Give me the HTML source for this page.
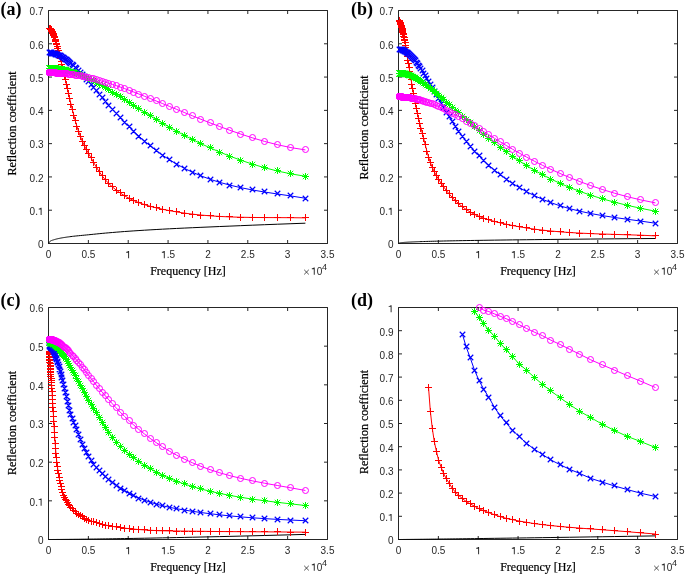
<!DOCTYPE html>
<html><head><meta charset="utf-8"><style>html,body{margin:0;padding:0;background:#fff;}svg{display:block;will-change:transform;}</style></head><body>
<svg width="685" height="575" viewBox="0 0 685 575">
<rect width="685" height="575" fill="#fff"/>
<path d="M48.5 243.5H327.5V10.5H48.5Z" fill="none" stroke="#262626" stroke-width="1"/>
<path d="M48.5 243.5v-3.5M48.5 10.5v3.5M88.36 243.5v-3.5M88.36 10.5v3.5M128.21 243.5v-3.5M128.21 10.5v3.5M168.07 243.5v-3.5M168.07 10.5v3.5M207.93 243.5v-3.5M207.93 10.5v3.5M247.79 243.5v-3.5M247.79 10.5v3.5M287.64 243.5v-3.5M287.64 10.5v3.5M327.5 243.5v-3.5M327.5 10.5v3.5M48.5 243.5h3.5M327.5 243.5h-3.5M48.5 210.21h3.5M327.5 210.21h-3.5M48.5 176.93h3.5M327.5 176.93h-3.5M48.5 143.64h3.5M327.5 143.64h-3.5M48.5 110.36h3.5M327.5 110.36h-3.5M48.5 77.07h3.5M327.5 77.07h-3.5M48.5 43.79h3.5M327.5 43.79h-3.5M48.5 10.5h3.5M327.5 10.5h-3.5" fill="none" stroke="#262626" stroke-width="1"/>
<path d="M48.5 243.5 49.33 242.14 49.37 242.06 49.43 241.99 49.48 241.91 49.54 241.83 49.6 241.75 49.67 241.67 49.74 241.59 49.81 241.51 49.89 241.43 49.97 241.36 50.06 241.29 50.16 241.23 50.25 241.17 50.36 241.1 50.47 241.04 50.59 240.97 50.71 240.9 50.84 240.83 50.98 240.76 51.13 240.69 51.29 240.62 51.46 240.55 51.63 240.48 51.82 240.41 52.02 240.34 52.23 240.27 52.45 240.2 52.69 240.13 52.94 240.05 53.2 239.98 53.48 239.89 53.78 239.8 54.09 239.7 54.43 239.6 54.78 239.49 55.16 239.39 55.55 239.27 55.97 239.16 56.42 239.04 56.89 238.92 57.39 238.8 57.93 238.68 58.49 238.55 59.08 238.42 59.72 238.3 60.39 238.17 61.1 238.03 61.85 237.9 62.64 237.76 63.49 237.62 64.38 237.48 65.33 237.33 66.34 237.18 67.4 237.03 68.53 236.88 69.73 236.72 70.99 236.56 72.34 236.39 73.76 236.23 75.27 236.06 76.86 235.9 78.56 235.73 80.35 235.55 82.25 235.37 84.27 235.18 86.4 234.98 88.67 234.75 91.07 234.51 93.61 234.25 96.3 233.98 99.15 233.69 102.18 233.4 105.38 233.1 108.78 232.8 112.38 232.5 116.19 232.18 120.23 231.86 124.51 231.53 129.05 231.21 133.86 230.88 138.96 230.55 144.36 230.21 150.08 229.87 156.14 229.52 162.57 229.17 169.38 228.81 176.6 228.45 184.24 228.09 192.35 227.71 200.93 227.33 210.03 226.94 219.68 226.53 229.9 226.11 240.73 225.66 252.2 225.19 264.36 224.71 277.25 224.22 290.91 223.71 305.38 223.2" fill="none" stroke="#000000" stroke-width="1"/>
<path d="M49.33 28.2 49.37 28.23 49.43 28.25 49.48 28.28 49.54 28.32 49.6 28.36 49.67 28.4 49.74 28.45 49.81 28.5 49.89 28.57 49.97 28.63 50.06 28.71 50.16 28.79 50.25 28.89 50.36 28.99 50.47 29.11 50.59 29.24 50.71 29.39 50.84 29.56 50.98 29.74 51.13 29.95 51.29 30.17 51.46 30.43 51.63 30.71 51.82 31.03 52.02 31.39 52.23 31.78 52.45 32.22 52.69 32.7 52.94 33.25 53.2 33.85 53.48 34.52 53.78 35.26 54.09 36.08 54.43 36.99 54.78 37.99 55.16 39.1 55.55 40.33 55.97 41.68 56.42 43.17 56.89 44.81 57.39 46.6 57.93 48.56 58.49 50.71 59.08 53.05 59.72 55.59 60.39 58.34 61.1 61.3 61.85 64.5 62.64 67.92 63.49 71.58 64.38 75.5 65.33 79.66 66.34 84.08 67.4 88.75 68.53 93.66 69.73 98.79 70.99 104.11 72.34 109.58 73.76 115.15 75.27 120.73 76.86 126.22 78.56 131.48 80.35 136.42 82.25 141.06 84.27 145.44 86.4 149.62 88.67 153.73 91.07 157.95 93.61 162.41 96.3 167.03 99.15 171.59 102.18 175.88 105.38 179.86 108.78 183.53 112.38 186.9 116.19 190.04 120.23 192.98 124.51 195.74 129.05 198.29 133.86 200.61 138.96 202.71 144.36 204.59 150.08 206.28 156.14 207.82 162.57 209.27 169.38 210.64 176.6 211.92 184.24 213.09 192.35 214.13 200.93 215.05 210.03 215.82 219.68 216.45 229.9 216.92 240.73 217.25 252.2 217.46 264.36 217.57 277.25 217.62 290.91 217.69 305.38 217.87" fill="none" stroke="#ff0000" stroke-width="1"/>
<path d="M46 28.5h7M49.5 25v7M46 28.5h7M49.5 25v7M46 28.5h7M49.5 25v7M46 28.5h7M49.5 25v7M46 28.5h7M49.5 25v7M46 28.5h7M49.5 25v7M46 28.5h7M49.5 25v7M46 28.5h7M49.5 25v7M46 28.5h7M49.5 25v7M46 28.5h7M49.5 25v7M46 28.5h7M49.5 25v7M47 28.5h7M50.5 25v7M47 28.5h7M50.5 25v7M47 28.5h7M50.5 25v7M47 28.5h7M50.5 25v7M47 29.5h7M50.5 26v7M47 29.5h7M50.5 26v7M47 29.5h7M50.5 26v7M47 29.5h7M50.5 26v7M47 29.5h7M50.5 26v7M48 29.5h7M51.5 26v7M48 30.5h7M51.5 27v7M48 30.5h7M51.5 27v7M48 30.5h7M51.5 27v7M48 31.5h7M51.5 28v7M49 31.5h7M52.5 28v7M49 31.5h7M52.5 28v7M49 32.5h7M52.5 29v7M49 32.5h7M52.5 29v7M49 33.5h7M52.5 30v7M50 33.5h7M53.5 30v7M50 34.5h7M53.5 31v7M50 35.5h7M53.5 32v7M51 36.5h7M54.5 33v7M51 36.5h7M54.5 33v7M51 37.5h7M54.5 34v7M52 39.5h7M55.5 36v7M52 40.5h7M55.5 37v7M52 41.5h7M55.5 38v7M53 43.5h7M56.5 40v7M53 44.5h7M56.5 41v7M54 46.5h7M57.5 43v7M54 48.5h7M57.5 45v7M55 50.5h7M58.5 47v7M56 53.5h7M59.5 50v7M56 55.5h7M59.5 52v7M57 58.5h7M60.5 55v7M58 61.5h7M61.5 58v7M58 64.5h7M61.5 61v7M59 67.5h7M62.5 64v7M60 71.5h7M63.5 68v7M61 75.5h7M64.5 72v7M62 79.5h7M65.5 76v7M63 84.5h7M66.5 81v7M64 88.5h7M67.5 85v7M65 93.5h7M68.5 90v7M66 98.5h7M69.5 95v7M67 104.5h7M70.5 101v7M69 109.5h7M72.5 106v7M70 115.5h7M73.5 112v7M72 120.5h7M75.5 117v7M73 126.5h7M76.5 123v7M75 131.5h7M78.5 128v7M77 136.5h7M80.5 133v7M79 141.5h7M82.5 138v7M81 145.5h7M84.5 142v7M83 149.5h7M86.5 146v7M85 153.5h7M88.5 150v7M88 157.5h7M91.5 154v7M90 162.5h7M93.5 159v7M93 167.5h7M96.5 164v7M96 171.5h7M99.5 168v7M99 175.5h7M102.5 172v7M102 179.5h7M105.5 176v7M105 183.5h7M108.5 180v7M109 186.5h7M112.5 183v7M113 190.5h7M116.5 187v7M117 192.5h7M120.5 189v7M121 195.5h7M124.5 192v7M126 198.5h7M129.5 195v7M130 200.5h7M133.5 197v7M135 202.5h7M138.5 199v7M141 204.5h7M144.5 201v7M147 206.5h7M150.5 203v7M153 207.5h7M156.5 204v7M159 209.5h7M162.5 206v7M166 210.5h7M169.5 207v7M173 211.5h7M176.5 208v7M181 213.5h7M184.5 210v7M189 214.5h7M192.5 211v7M197 215.5h7M200.5 212v7M207 215.5h7M210.5 212v7M216 216.5h7M219.5 213v7M226 216.5h7M229.5 213v7M237 217.5h7M240.5 214v7M249 217.5h7M252.5 214v7M261 217.5h7M264.5 214v7M274 217.5h7M277.5 214v7M287 217.5h7M290.5 214v7M302 217.5h7M305.5 214v7" fill="none" stroke="#ff0000" stroke-width="1"/>
<path d="M49.33 52.79 49.37 52.79 49.43 52.79 49.48 52.79 49.54 52.8 49.6 52.8 49.67 52.8 49.74 52.8 49.81 52.81 49.89 52.81 49.97 52.82 50.06 52.82 50.16 52.83 50.25 52.84 50.36 52.85 50.47 52.86 50.59 52.87 50.71 52.88 50.84 52.89 50.98 52.91 51.13 52.93 51.29 52.95 51.46 52.97 51.63 52.99 51.82 53.02 52.02 53.05 52.23 53.09 52.45 53.13 52.69 53.17 52.94 53.22 53.2 53.28 53.48 53.34 53.78 53.41 54.09 53.49 54.43 53.58 54.78 53.68 55.16 53.79 55.55 53.92 55.97 54.06 56.42 54.22 56.89 54.4 57.39 54.59 57.93 54.81 58.49 55.06 59.08 55.33 59.72 55.64 60.39 55.98 61.1 56.36 61.85 56.79 62.64 57.26 63.49 57.79 64.38 58.37 65.33 59.02 66.34 59.74 67.4 60.53 68.53 61.42 69.73 62.39 70.99 63.47 72.34 64.66 73.76 65.96 75.27 67.4 76.86 68.98 78.56 70.7 80.35 72.59 82.25 74.64 84.27 76.87 86.4 79.28 88.67 81.89 91.07 84.68 93.61 87.67 96.3 90.84 99.15 94.18 102.18 97.69 105.38 101.36 108.78 105.2 112.38 109.21 116.19 113.37 120.23 117.69 124.51 122.14 129.05 126.73 133.86 131.42 138.96 136.19 144.36 141.01 150.08 145.82 156.14 150.57 162.57 155.21 169.38 159.73 176.6 164.08 184.24 168.24 192.35 172.17 200.93 175.84 210.03 179.24 219.68 182.34 229.9 185.14 240.73 187.66 252.2 189.92 264.36 191.99 277.25 193.96 290.91 195.97 305.38 198.24" fill="none" stroke="#0000ff" stroke-width="1"/>
<path d="M46.75 49.75l5.5 5.5M46.75 55.25l5.5 -5.5M46.75 49.75l5.5 5.5M46.75 55.25l5.5 -5.5M46.75 49.75l5.5 5.5M46.75 55.25l5.5 -5.5M46.75 49.75l5.5 5.5M46.75 55.25l5.5 -5.5M46.75 49.75l5.5 5.5M46.75 55.25l5.5 -5.5M46.75 49.75l5.5 5.5M46.75 55.25l5.5 -5.5M46.75 49.75l5.5 5.5M46.75 55.25l5.5 -5.5M46.75 49.75l5.5 5.5M46.75 55.25l5.5 -5.5M46.75 49.75l5.5 5.5M46.75 55.25l5.5 -5.5M46.75 49.75l5.5 5.5M46.75 55.25l5.5 -5.5M46.75 49.75l5.5 5.5M46.75 55.25l5.5 -5.5M47.75 49.75l5.5 5.5M47.75 55.25l5.5 -5.5M47.75 49.75l5.5 5.5M47.75 55.25l5.5 -5.5M47.75 49.75l5.5 5.5M47.75 55.25l5.5 -5.5M47.75 49.75l5.5 5.5M47.75 55.25l5.5 -5.5M47.75 49.75l5.5 5.5M47.75 55.25l5.5 -5.5M47.75 49.75l5.5 5.5M47.75 55.25l5.5 -5.5M47.75 49.75l5.5 5.5M47.75 55.25l5.5 -5.5M47.75 49.75l5.5 5.5M47.75 55.25l5.5 -5.5M47.75 49.75l5.5 5.5M47.75 55.25l5.5 -5.5M48.75 49.75l5.5 5.5M48.75 55.25l5.5 -5.5M48.75 49.75l5.5 5.5M48.75 55.25l5.5 -5.5M48.75 49.75l5.5 5.5M48.75 55.25l5.5 -5.5M48.75 49.75l5.5 5.5M48.75 55.25l5.5 -5.5M48.75 50.75l5.5 5.5M48.75 56.25l5.5 -5.5M49.75 50.75l5.5 5.5M49.75 56.25l5.5 -5.5M49.75 50.75l5.5 5.5M49.75 56.25l5.5 -5.5M49.75 50.75l5.5 5.5M49.75 56.25l5.5 -5.5M49.75 50.75l5.5 5.5M49.75 56.25l5.5 -5.5M49.75 50.75l5.5 5.5M49.75 56.25l5.5 -5.5M50.75 50.75l5.5 5.5M50.75 56.25l5.5 -5.5M50.75 50.75l5.5 5.5M50.75 56.25l5.5 -5.5M50.75 50.75l5.5 5.5M50.75 56.25l5.5 -5.5M51.75 50.75l5.5 5.5M51.75 56.25l5.5 -5.5M51.75 50.75l5.5 5.5M51.75 56.25l5.5 -5.5M51.75 50.75l5.5 5.5M51.75 56.25l5.5 -5.5M52.75 50.75l5.5 5.5M52.75 56.25l5.5 -5.5M52.75 50.75l5.5 5.5M52.75 56.25l5.5 -5.5M52.75 51.75l5.5 5.5M52.75 57.25l5.5 -5.5M53.75 51.75l5.5 5.5M53.75 57.25l5.5 -5.5M53.75 51.75l5.5 5.5M53.75 57.25l5.5 -5.5M54.75 51.75l5.5 5.5M54.75 57.25l5.5 -5.5M54.75 51.75l5.5 5.5M54.75 57.25l5.5 -5.5M55.75 52.75l5.5 5.5M55.75 58.25l5.5 -5.5M56.75 52.75l5.5 5.5M56.75 58.25l5.5 -5.5M56.75 52.75l5.5 5.5M56.75 58.25l5.5 -5.5M57.75 52.75l5.5 5.5M57.75 58.25l5.5 -5.5M58.75 53.75l5.5 5.5M58.75 59.25l5.5 -5.5M58.75 53.75l5.5 5.5M58.75 59.25l5.5 -5.5M59.75 54.75l5.5 5.5M59.75 60.25l5.5 -5.5M60.75 54.75l5.5 5.5M60.75 60.25l5.5 -5.5M61.75 55.75l5.5 5.5M61.75 61.25l5.5 -5.5M62.75 56.75l5.5 5.5M62.75 62.25l5.5 -5.5M63.75 56.75l5.5 5.5M63.75 62.25l5.5 -5.5M64.75 57.75l5.5 5.5M64.75 63.25l5.5 -5.5M65.75 58.75l5.5 5.5M65.75 64.25l5.5 -5.5M66.75 59.75l5.5 5.5M66.75 65.25l5.5 -5.5M67.75 60.75l5.5 5.5M67.75 66.25l5.5 -5.5M69.75 61.75l5.5 5.5M69.75 67.25l5.5 -5.5M70.75 62.75l5.5 5.5M70.75 68.25l5.5 -5.5M72.75 64.75l5.5 5.5M72.75 70.25l5.5 -5.5M73.75 65.75l5.5 5.5M73.75 71.25l5.5 -5.5M75.75 67.75l5.5 5.5M75.75 73.25l5.5 -5.5M77.75 69.75l5.5 5.5M77.75 75.25l5.5 -5.5M79.75 71.75l5.5 5.5M79.75 77.25l5.5 -5.5M81.75 73.75l5.5 5.5M81.75 79.25l5.5 -5.5M83.75 76.75l5.5 5.5M83.75 82.25l5.5 -5.5M85.75 78.75l5.5 5.5M85.75 84.25l5.5 -5.5M88.75 81.75l5.5 5.5M88.75 87.25l5.5 -5.5M90.75 84.75l5.5 5.5M90.75 90.25l5.5 -5.5M93.75 87.75l5.5 5.5M93.75 93.25l5.5 -5.5M96.75 91.75l5.5 5.5M96.75 97.25l5.5 -5.5M99.75 94.75l5.5 5.5M99.75 100.25l5.5 -5.5M102.75 98.75l5.5 5.5M102.75 104.25l5.5 -5.5M105.75 102.75l5.5 5.5M105.75 108.25l5.5 -5.5M109.75 106.75l5.5 5.5M109.75 112.25l5.5 -5.5M113.75 110.75l5.5 5.5M113.75 116.25l5.5 -5.5M117.75 114.75l5.5 5.5M117.75 120.25l5.5 -5.5M121.75 119.75l5.5 5.5M121.75 125.25l5.5 -5.5M126.75 123.75l5.5 5.5M126.75 129.25l5.5 -5.5M130.75 128.75l5.5 5.5M130.75 134.25l5.5 -5.5M135.75 133.75l5.5 5.5M135.75 139.25l5.5 -5.5M141.75 138.75l5.5 5.5M141.75 144.25l5.5 -5.5M147.75 142.75l5.5 5.5M147.75 148.25l5.5 -5.5M153.75 147.75l5.5 5.5M153.75 153.25l5.5 -5.5M159.75 152.75l5.5 5.5M159.75 158.25l5.5 -5.5M166.75 156.75l5.5 5.5M166.75 162.25l5.5 -5.5M173.75 161.75l5.5 5.5M173.75 167.25l5.5 -5.5M181.75 165.75l5.5 5.5M181.75 171.25l5.5 -5.5M189.75 169.75l5.5 5.5M189.75 175.25l5.5 -5.5M197.75 172.75l5.5 5.5M197.75 178.25l5.5 -5.5M207.75 176.75l5.5 5.5M207.75 182.25l5.5 -5.5M216.75 179.75l5.5 5.5M216.75 185.25l5.5 -5.5M226.75 182.75l5.5 5.5M226.75 188.25l5.5 -5.5M237.75 184.75l5.5 5.5M237.75 190.25l5.5 -5.5M249.75 186.75l5.5 5.5M249.75 192.25l5.5 -5.5M261.75 188.75l5.5 5.5M261.75 194.25l5.5 -5.5M274.75 190.75l5.5 5.5M274.75 196.25l5.5 -5.5M287.75 192.75l5.5 5.5M287.75 198.25l5.5 -5.5M302.75 195.75l5.5 5.5M302.75 201.25l5.5 -5.5" fill="none" stroke="#0000ff" stroke-width="1.15"/>
<path d="M49.33 68.32 49.37 68.32 49.43 68.32 49.48 68.32 49.54 68.32 49.6 68.32 49.67 68.32 49.74 68.32 49.81 68.33 49.89 68.33 49.97 68.33 50.06 68.33 50.16 68.33 50.25 68.34 50.36 68.34 50.47 68.34 50.59 68.35 50.71 68.35 50.84 68.36 50.98 68.36 51.13 68.37 51.29 68.37 51.46 68.38 51.63 68.39 51.82 68.4 52.02 68.41 52.23 68.42 52.45 68.43 52.69 68.44 52.94 68.46 53.2 68.47 53.48 68.49 53.78 68.51 54.09 68.54 54.43 68.57 54.78 68.59 55.16 68.63 55.55 68.66 55.97 68.71 56.42 68.75 56.89 68.8 57.39 68.86 57.93 68.93 58.49 69 59.08 69.08 59.72 69.17 60.39 69.27 61.1 69.39 61.85 69.52 62.64 69.66 63.49 69.82 64.38 70 65.33 70.2 66.34 70.42 67.4 70.67 68.53 70.95 69.73 71.27 70.99 71.62 72.34 72.01 73.76 72.45 75.27 72.95 76.86 73.5 78.56 74.11 80.35 74.8 82.25 75.57 84.27 76.43 86.4 77.4 88.67 78.47 91.07 79.67 93.61 80.99 96.3 82.46 99.15 84.07 102.18 85.83 105.38 87.75 108.78 89.82 112.38 92.05 116.19 94.43 120.23 96.96 124.51 99.66 129.05 102.53 133.86 105.57 138.96 108.78 144.36 112.16 150.08 115.7 156.14 119.39 162.57 123.21 169.38 127.14 176.6 131.17 184.24 135.27 192.35 139.43 200.93 143.63 210.03 147.84 219.68 152.03 229.9 156.16 240.73 160.18 252.2 164.04 264.36 167.66 277.25 170.97 290.91 173.87 305.38 176.26" fill="none" stroke="#00ff00" stroke-width="1"/>
<path d="M46 68.5h7M49.5 65v7M46.8 65.8l5.4 5.4M46.8 71.2l5.4 -5.4M46 68.5h7M49.5 65v7M46.8 65.8l5.4 5.4M46.8 71.2l5.4 -5.4M46 68.5h7M49.5 65v7M46.8 65.8l5.4 5.4M46.8 71.2l5.4 -5.4M46 68.5h7M49.5 65v7M46.8 65.8l5.4 5.4M46.8 71.2l5.4 -5.4M46 68.5h7M49.5 65v7M46.8 65.8l5.4 5.4M46.8 71.2l5.4 -5.4M46 68.5h7M49.5 65v7M46.8 65.8l5.4 5.4M46.8 71.2l5.4 -5.4M46 68.5h7M49.5 65v7M46.8 65.8l5.4 5.4M46.8 71.2l5.4 -5.4M46 68.5h7M49.5 65v7M46.8 65.8l5.4 5.4M46.8 71.2l5.4 -5.4M46 68.5h7M49.5 65v7M46.8 65.8l5.4 5.4M46.8 71.2l5.4 -5.4M46 68.5h7M49.5 65v7M46.8 65.8l5.4 5.4M46.8 71.2l5.4 -5.4M46 68.5h7M49.5 65v7M46.8 65.8l5.4 5.4M46.8 71.2l5.4 -5.4M47 68.5h7M50.5 65v7M47.8 65.8l5.4 5.4M47.8 71.2l5.4 -5.4M47 68.5h7M50.5 65v7M47.8 65.8l5.4 5.4M47.8 71.2l5.4 -5.4M47 68.5h7M50.5 65v7M47.8 65.8l5.4 5.4M47.8 71.2l5.4 -5.4M47 68.5h7M50.5 65v7M47.8 65.8l5.4 5.4M47.8 71.2l5.4 -5.4M47 68.5h7M50.5 65v7M47.8 65.8l5.4 5.4M47.8 71.2l5.4 -5.4M47 68.5h7M50.5 65v7M47.8 65.8l5.4 5.4M47.8 71.2l5.4 -5.4M47 68.5h7M50.5 65v7M47.8 65.8l5.4 5.4M47.8 71.2l5.4 -5.4M47 68.5h7M50.5 65v7M47.8 65.8l5.4 5.4M47.8 71.2l5.4 -5.4M47 68.5h7M50.5 65v7M47.8 65.8l5.4 5.4M47.8 71.2l5.4 -5.4M48 68.5h7M51.5 65v7M48.8 65.8l5.4 5.4M48.8 71.2l5.4 -5.4M48 68.5h7M51.5 65v7M48.8 65.8l5.4 5.4M48.8 71.2l5.4 -5.4M48 68.5h7M51.5 65v7M48.8 65.8l5.4 5.4M48.8 71.2l5.4 -5.4M48 68.5h7M51.5 65v7M48.8 65.8l5.4 5.4M48.8 71.2l5.4 -5.4M48 68.5h7M51.5 65v7M48.8 65.8l5.4 5.4M48.8 71.2l5.4 -5.4M49 68.5h7M52.5 65v7M49.8 65.8l5.4 5.4M49.8 71.2l5.4 -5.4M49 68.5h7M52.5 65v7M49.8 65.8l5.4 5.4M49.8 71.2l5.4 -5.4M49 68.5h7M52.5 65v7M49.8 65.8l5.4 5.4M49.8 71.2l5.4 -5.4M49 68.5h7M52.5 65v7M49.8 65.8l5.4 5.4M49.8 71.2l5.4 -5.4M49 68.5h7M52.5 65v7M49.8 65.8l5.4 5.4M49.8 71.2l5.4 -5.4M50 68.5h7M53.5 65v7M50.8 65.8l5.4 5.4M50.8 71.2l5.4 -5.4M50 68.5h7M53.5 65v7M50.8 65.8l5.4 5.4M50.8 71.2l5.4 -5.4M50 68.5h7M53.5 65v7M50.8 65.8l5.4 5.4M50.8 71.2l5.4 -5.4M51 68.5h7M54.5 65v7M51.8 65.8l5.4 5.4M51.8 71.2l5.4 -5.4M51 68.5h7M54.5 65v7M51.8 65.8l5.4 5.4M51.8 71.2l5.4 -5.4M51 68.5h7M54.5 65v7M51.8 65.8l5.4 5.4M51.8 71.2l5.4 -5.4M52 68.5h7M55.5 65v7M52.8 65.8l5.4 5.4M52.8 71.2l5.4 -5.4M52 68.5h7M55.5 65v7M52.8 65.8l5.4 5.4M52.8 71.2l5.4 -5.4M52 68.5h7M55.5 65v7M52.8 65.8l5.4 5.4M52.8 71.2l5.4 -5.4M53 68.5h7M56.5 65v7M53.8 65.8l5.4 5.4M53.8 71.2l5.4 -5.4M53 68.5h7M56.5 65v7M53.8 65.8l5.4 5.4M53.8 71.2l5.4 -5.4M54 68.5h7M57.5 65v7M54.8 65.8l5.4 5.4M54.8 71.2l5.4 -5.4M54 68.5h7M57.5 65v7M54.8 65.8l5.4 5.4M54.8 71.2l5.4 -5.4M55 68.5h7M58.5 65v7M55.8 65.8l5.4 5.4M55.8 71.2l5.4 -5.4M56 69.5h7M59.5 66v7M56.8 66.8l5.4 5.4M56.8 72.2l5.4 -5.4M56 69.5h7M59.5 66v7M56.8 66.8l5.4 5.4M56.8 72.2l5.4 -5.4M57 69.5h7M60.5 66v7M57.8 66.8l5.4 5.4M57.8 72.2l5.4 -5.4M58 69.5h7M61.5 66v7M58.8 66.8l5.4 5.4M58.8 72.2l5.4 -5.4M58 69.5h7M61.5 66v7M58.8 66.8l5.4 5.4M58.8 72.2l5.4 -5.4M59 69.5h7M62.5 66v7M59.8 66.8l5.4 5.4M59.8 72.2l5.4 -5.4M60 69.5h7M63.5 66v7M60.8 66.8l5.4 5.4M60.8 72.2l5.4 -5.4M61 69.5h7M64.5 66v7M61.8 66.8l5.4 5.4M61.8 72.2l5.4 -5.4M62 70.5h7M65.5 67v7M62.8 67.8l5.4 5.4M62.8 73.2l5.4 -5.4M63 70.5h7M66.5 67v7M63.8 67.8l5.4 5.4M63.8 73.2l5.4 -5.4M64 70.5h7M67.5 67v7M64.8 67.8l5.4 5.4M64.8 73.2l5.4 -5.4M65 70.5h7M68.5 67v7M65.8 67.8l5.4 5.4M65.8 73.2l5.4 -5.4M66 71.5h7M69.5 68v7M66.8 68.8l5.4 5.4M66.8 74.2l5.4 -5.4M67 71.5h7M70.5 68v7M67.8 68.8l5.4 5.4M67.8 74.2l5.4 -5.4M69 72.5h7M72.5 69v7M69.8 69.8l5.4 5.4M69.8 75.2l5.4 -5.4M70 72.5h7M73.5 69v7M70.8 69.8l5.4 5.4M70.8 75.2l5.4 -5.4M72 72.5h7M75.5 69v7M72.8 69.8l5.4 5.4M72.8 75.2l5.4 -5.4M73 73.5h7M76.5 70v7M73.8 70.8l5.4 5.4M73.8 76.2l5.4 -5.4M75 74.5h7M78.5 71v7M75.8 71.8l5.4 5.4M75.8 77.2l5.4 -5.4M77 74.5h7M80.5 71v7M77.8 71.8l5.4 5.4M77.8 77.2l5.4 -5.4M79 75.5h7M82.5 72v7M79.8 72.8l5.4 5.4M79.8 78.2l5.4 -5.4M81 76.5h7M84.5 73v7M81.8 73.8l5.4 5.4M81.8 79.2l5.4 -5.4M83 77.5h7M86.5 74v7M83.8 74.8l5.4 5.4M83.8 80.2l5.4 -5.4M85 78.5h7M88.5 75v7M85.8 75.8l5.4 5.4M85.8 81.2l5.4 -5.4M88 79.5h7M91.5 76v7M88.8 76.8l5.4 5.4M88.8 82.2l5.4 -5.4M90 80.5h7M93.5 77v7M90.8 77.8l5.4 5.4M90.8 83.2l5.4 -5.4M93 82.5h7M96.5 79v7M93.8 79.8l5.4 5.4M93.8 85.2l5.4 -5.4M96 84.5h7M99.5 81v7M96.8 81.8l5.4 5.4M96.8 87.2l5.4 -5.4M99 85.5h7M102.5 82v7M99.8 82.8l5.4 5.4M99.8 88.2l5.4 -5.4M102 87.5h7M105.5 84v7M102.8 84.8l5.4 5.4M102.8 90.2l5.4 -5.4M105 89.5h7M108.5 86v7M105.8 86.8l5.4 5.4M105.8 92.2l5.4 -5.4M109 92.5h7M112.5 89v7M109.8 89.8l5.4 5.4M109.8 95.2l5.4 -5.4M113 94.5h7M116.5 91v7M113.8 91.8l5.4 5.4M113.8 97.2l5.4 -5.4M117 96.5h7M120.5 93v7M117.8 93.8l5.4 5.4M117.8 99.2l5.4 -5.4M121 99.5h7M124.5 96v7M121.8 96.8l5.4 5.4M121.8 102.2l5.4 -5.4M126 102.5h7M129.5 99v7M126.8 99.8l5.4 5.4M126.8 105.2l5.4 -5.4M130 105.5h7M133.5 102v7M130.8 102.8l5.4 5.4M130.8 108.2l5.4 -5.4M135 108.5h7M138.5 105v7M135.8 105.8l5.4 5.4M135.8 111.2l5.4 -5.4M141 112.5h7M144.5 109v7M141.8 109.8l5.4 5.4M141.8 115.2l5.4 -5.4M147 115.5h7M150.5 112v7M147.8 112.8l5.4 5.4M147.8 118.2l5.4 -5.4M153 119.5h7M156.5 116v7M153.8 116.8l5.4 5.4M153.8 122.2l5.4 -5.4M159 123.5h7M162.5 120v7M159.8 120.8l5.4 5.4M159.8 126.2l5.4 -5.4M166 127.5h7M169.5 124v7M166.8 124.8l5.4 5.4M166.8 130.2l5.4 -5.4M173 131.5h7M176.5 128v7M173.8 128.8l5.4 5.4M173.8 134.2l5.4 -5.4M181 135.5h7M184.5 132v7M181.8 132.8l5.4 5.4M181.8 138.2l5.4 -5.4M189 139.5h7M192.5 136v7M189.8 136.8l5.4 5.4M189.8 142.2l5.4 -5.4M197 143.5h7M200.5 140v7M197.8 140.8l5.4 5.4M197.8 146.2l5.4 -5.4M207 147.5h7M210.5 144v7M207.8 144.8l5.4 5.4M207.8 150.2l5.4 -5.4M216 152.5h7M219.5 149v7M216.8 149.8l5.4 5.4M216.8 155.2l5.4 -5.4M226 156.5h7M229.5 153v7M226.8 153.8l5.4 5.4M226.8 159.2l5.4 -5.4M237 160.5h7M240.5 157v7M237.8 157.8l5.4 5.4M237.8 163.2l5.4 -5.4M249 164.5h7M252.5 161v7M249.8 161.8l5.4 5.4M249.8 167.2l5.4 -5.4M261 167.5h7M264.5 164v7M261.8 164.8l5.4 5.4M261.8 170.2l5.4 -5.4M274 170.5h7M277.5 167v7M274.8 167.8l5.4 5.4M274.8 173.2l5.4 -5.4M287 173.5h7M290.5 170v7M287.8 170.8l5.4 5.4M287.8 176.2l5.4 -5.4M302 176.5h7M305.5 173v7M302.8 173.8l5.4 5.4M302.8 179.2l5.4 -5.4" fill="none" stroke="#00ff00" stroke-width="1"/>
<path d="M49.33 72.82 49.37 72.82 49.43 72.82 49.48 72.82 49.54 72.82 49.6 72.82 49.67 72.82 49.74 72.82 49.81 72.82 49.89 72.82 49.97 72.82 50.06 72.82 50.16 72.82 50.25 72.82 50.36 72.83 50.47 72.83 50.59 72.83 50.71 72.83 50.84 72.83 50.98 72.83 51.13 72.83 51.29 72.84 51.46 72.84 51.63 72.84 51.82 72.85 52.02 72.85 52.23 72.86 52.45 72.86 52.69 72.87 52.94 72.87 53.2 72.88 53.48 72.89 53.78 72.9 54.09 72.91 54.43 72.92 54.78 72.93 55.16 72.95 55.55 72.97 55.97 72.99 56.42 73.01 56.89 73.03 57.39 73.06 57.93 73.09 58.49 73.12 59.08 73.16 59.72 73.21 60.39 73.26 61.1 73.31 61.85 73.37 62.64 73.44 63.49 73.52 64.38 73.61 65.33 73.7 66.34 73.81 67.4 73.94 68.53 74.07 69.73 74.23 70.99 74.4 72.34 74.59 73.76 74.8 75.27 75.04 76.86 75.31 78.56 75.61 80.35 75.94 82.25 76.31 84.27 76.72 86.4 77.18 88.67 77.69 91.07 78.26 93.61 78.88 96.3 79.58 99.15 80.36 102.18 81.22 105.38 82.16 108.78 83.21 112.38 84.37 116.19 85.64 120.23 87.04 124.51 88.57 129.05 90.25 133.86 92.07 138.96 94.05 144.36 96.19 150.08 98.48 156.14 100.94 162.57 103.57 169.38 106.37 176.6 109.34 184.24 112.48 192.35 115.79 200.93 119.24 210.03 122.83 219.68 126.52 229.9 130.28 240.73 134.06 252.2 137.78 264.36 141.36 277.25 144.68 290.91 147.6 305.38 149.92" fill="none" stroke="#ff00ff" stroke-width="1"/>
<path d="M46.5 72.5a3 3 0 1 0 6 0a3 3 0 1 0 -6 0M46.5 72.5a3 3 0 1 0 6 0a3 3 0 1 0 -6 0M46.5 72.5a3 3 0 1 0 6 0a3 3 0 1 0 -6 0M46.5 72.5a3 3 0 1 0 6 0a3 3 0 1 0 -6 0M46.5 72.5a3 3 0 1 0 6 0a3 3 0 1 0 -6 0M46.5 72.5a3 3 0 1 0 6 0a3 3 0 1 0 -6 0M46.5 72.5a3 3 0 1 0 6 0a3 3 0 1 0 -6 0M46.5 72.5a3 3 0 1 0 6 0a3 3 0 1 0 -6 0M46.5 72.5a3 3 0 1 0 6 0a3 3 0 1 0 -6 0M46.5 72.5a3 3 0 1 0 6 0a3 3 0 1 0 -6 0M46.5 72.5a3 3 0 1 0 6 0a3 3 0 1 0 -6 0M47.5 72.5a3 3 0 1 0 6 0a3 3 0 1 0 -6 0M47.5 72.5a3 3 0 1 0 6 0a3 3 0 1 0 -6 0M47.5 72.5a3 3 0 1 0 6 0a3 3 0 1 0 -6 0M47.5 72.5a3 3 0 1 0 6 0a3 3 0 1 0 -6 0M47.5 72.5a3 3 0 1 0 6 0a3 3 0 1 0 -6 0M47.5 72.5a3 3 0 1 0 6 0a3 3 0 1 0 -6 0M47.5 72.5a3 3 0 1 0 6 0a3 3 0 1 0 -6 0M47.5 72.5a3 3 0 1 0 6 0a3 3 0 1 0 -6 0M47.5 72.5a3 3 0 1 0 6 0a3 3 0 1 0 -6 0M48.5 72.5a3 3 0 1 0 6 0a3 3 0 1 0 -6 0M48.5 72.5a3 3 0 1 0 6 0a3 3 0 1 0 -6 0M48.5 72.5a3 3 0 1 0 6 0a3 3 0 1 0 -6 0M48.5 72.5a3 3 0 1 0 6 0a3 3 0 1 0 -6 0M48.5 72.5a3 3 0 1 0 6 0a3 3 0 1 0 -6 0M49.5 72.5a3 3 0 1 0 6 0a3 3 0 1 0 -6 0M49.5 72.5a3 3 0 1 0 6 0a3 3 0 1 0 -6 0M49.5 72.5a3 3 0 1 0 6 0a3 3 0 1 0 -6 0M49.5 72.5a3 3 0 1 0 6 0a3 3 0 1 0 -6 0M49.5 72.5a3 3 0 1 0 6 0a3 3 0 1 0 -6 0M50.5 72.5a3 3 0 1 0 6 0a3 3 0 1 0 -6 0M50.5 72.5a3 3 0 1 0 6 0a3 3 0 1 0 -6 0M50.5 72.5a3 3 0 1 0 6 0a3 3 0 1 0 -6 0M51.5 72.5a3 3 0 1 0 6 0a3 3 0 1 0 -6 0M51.5 72.5a3 3 0 1 0 6 0a3 3 0 1 0 -6 0M51.5 72.5a3 3 0 1 0 6 0a3 3 0 1 0 -6 0M52.5 72.5a3 3 0 1 0 6 0a3 3 0 1 0 -6 0M52.5 72.5a3 3 0 1 0 6 0a3 3 0 1 0 -6 0M52.5 72.5a3 3 0 1 0 6 0a3 3 0 1 0 -6 0M53.5 73.5a3 3 0 1 0 6 0a3 3 0 1 0 -6 0M53.5 73.5a3 3 0 1 0 6 0a3 3 0 1 0 -6 0M54.5 73.5a3 3 0 1 0 6 0a3 3 0 1 0 -6 0M54.5 73.5a3 3 0 1 0 6 0a3 3 0 1 0 -6 0M55.5 73.5a3 3 0 1 0 6 0a3 3 0 1 0 -6 0M56.5 73.5a3 3 0 1 0 6 0a3 3 0 1 0 -6 0M56.5 73.5a3 3 0 1 0 6 0a3 3 0 1 0 -6 0M57.5 73.5a3 3 0 1 0 6 0a3 3 0 1 0 -6 0M58.5 73.5a3 3 0 1 0 6 0a3 3 0 1 0 -6 0M58.5 73.5a3 3 0 1 0 6 0a3 3 0 1 0 -6 0M59.5 73.5a3 3 0 1 0 6 0a3 3 0 1 0 -6 0M60.5 73.5a3 3 0 1 0 6 0a3 3 0 1 0 -6 0M61.5 73.5a3 3 0 1 0 6 0a3 3 0 1 0 -6 0M62.5 73.5a3 3 0 1 0 6 0a3 3 0 1 0 -6 0M63.5 73.5a3 3 0 1 0 6 0a3 3 0 1 0 -6 0M64.5 73.5a3 3 0 1 0 6 0a3 3 0 1 0 -6 0M65.5 74.5a3 3 0 1 0 6 0a3 3 0 1 0 -6 0M66.5 74.5a3 3 0 1 0 6 0a3 3 0 1 0 -6 0M67.5 74.5a3 3 0 1 0 6 0a3 3 0 1 0 -6 0M69.5 74.5a3 3 0 1 0 6 0a3 3 0 1 0 -6 0M70.5 74.5a3 3 0 1 0 6 0a3 3 0 1 0 -6 0M72.5 75.5a3 3 0 1 0 6 0a3 3 0 1 0 -6 0M73.5 75.5a3 3 0 1 0 6 0a3 3 0 1 0 -6 0M75.5 75.5a3 3 0 1 0 6 0a3 3 0 1 0 -6 0M77.5 75.5a3 3 0 1 0 6 0a3 3 0 1 0 -6 0M79.5 76.5a3 3 0 1 0 6 0a3 3 0 1 0 -6 0M81.5 76.5a3 3 0 1 0 6 0a3 3 0 1 0 -6 0M83.5 77.5a3 3 0 1 0 6 0a3 3 0 1 0 -6 0M85.5 77.5a3 3 0 1 0 6 0a3 3 0 1 0 -6 0M88.5 78.5a3 3 0 1 0 6 0a3 3 0 1 0 -6 0M90.5 78.5a3 3 0 1 0 6 0a3 3 0 1 0 -6 0M93.5 79.5a3 3 0 1 0 6 0a3 3 0 1 0 -6 0M96.5 80.5a3 3 0 1 0 6 0a3 3 0 1 0 -6 0M99.5 81.5a3 3 0 1 0 6 0a3 3 0 1 0 -6 0M102.5 82.5a3 3 0 1 0 6 0a3 3 0 1 0 -6 0M105.5 83.5a3 3 0 1 0 6 0a3 3 0 1 0 -6 0M109.5 84.5a3 3 0 1 0 6 0a3 3 0 1 0 -6 0M113.5 85.5a3 3 0 1 0 6 0a3 3 0 1 0 -6 0M117.5 87.5a3 3 0 1 0 6 0a3 3 0 1 0 -6 0M121.5 88.5a3 3 0 1 0 6 0a3 3 0 1 0 -6 0M126.5 90.5a3 3 0 1 0 6 0a3 3 0 1 0 -6 0M130.5 92.5a3 3 0 1 0 6 0a3 3 0 1 0 -6 0M135.5 94.5a3 3 0 1 0 6 0a3 3 0 1 0 -6 0M141.5 96.5a3 3 0 1 0 6 0a3 3 0 1 0 -6 0M147.5 98.5a3 3 0 1 0 6 0a3 3 0 1 0 -6 0M153.5 100.5a3 3 0 1 0 6 0a3 3 0 1 0 -6 0M159.5 103.5a3 3 0 1 0 6 0a3 3 0 1 0 -6 0M166.5 106.5a3 3 0 1 0 6 0a3 3 0 1 0 -6 0M173.5 109.5a3 3 0 1 0 6 0a3 3 0 1 0 -6 0M181.5 112.5a3 3 0 1 0 6 0a3 3 0 1 0 -6 0M189.5 115.5a3 3 0 1 0 6 0a3 3 0 1 0 -6 0M197.5 119.5a3 3 0 1 0 6 0a3 3 0 1 0 -6 0M207.5 122.5a3 3 0 1 0 6 0a3 3 0 1 0 -6 0M216.5 126.5a3 3 0 1 0 6 0a3 3 0 1 0 -6 0M226.5 130.5a3 3 0 1 0 6 0a3 3 0 1 0 -6 0M237.5 134.5a3 3 0 1 0 6 0a3 3 0 1 0 -6 0M249.5 137.5a3 3 0 1 0 6 0a3 3 0 1 0 -6 0M261.5 141.5a3 3 0 1 0 6 0a3 3 0 1 0 -6 0M274.5 144.5a3 3 0 1 0 6 0a3 3 0 1 0 -6 0M287.5 147.5a3 3 0 1 0 6 0a3 3 0 1 0 -6 0M302.5 149.5a3 3 0 1 0 6 0a3 3 0 1 0 -6 0" fill="none" stroke="#ff00ff" stroke-width="1"/>
<g font-family="Liberation Sans" font-size="10" fill="#262626"><text x="45.72" y="258.2">0</text><text x="81.41" y="258.2">0.5</text><path d="M128.13 258.2L128.13 252.65L126.18 252.65L126.18 251.85C127.43 251.75 127.98 251.4 128.18 251.04L129.08 251.04L129.08 258.2Z" fill="#262626"/><text x="166.68" y="258.2">.5</text><path d="M163.82 258.2L163.82 252.65L161.87 252.65L161.87 251.85C163.12 251.75 163.67 251.4 163.87 251.04L164.77 251.04L164.77 258.2Z" fill="#262626"/><text x="205.15" y="258.2">2</text><text x="240.84" y="258.2">2.5</text><text x="284.86" y="258.2">3</text><text x="320.55" y="258.2">3.5</text><text x="37.94" y="248.3">0</text><text x="29.6" y="215.01">0.</text><path d="M40.64 215.01L40.64 209.46L38.69 209.46L38.69 208.66C39.94 208.56 40.49 208.21 40.69 207.85L41.59 207.85L41.59 215.01Z" fill="#262626"/><text x="29.6" y="181.73">0.2</text><text x="29.6" y="148.44">0.3</text><text x="29.6" y="115.16">0.4</text><text x="29.6" y="81.87">0.5</text><text x="29.6" y="48.59">0.6</text><text x="29.6" y="15.3">0.7</text></g>
<path d="M304.2 269.8l4.6 4.6M304.2 274.4l4.6 -4.6" stroke="#262626" stroke-width="0.8" fill="none"/>
<g font-family="Liberation Sans" fill="#262626" font-size="10"><text x="316.64" y="274.7">0</text><path d="M313.78 274.7L313.78 269.15L311.83 269.15L311.83 268.35C313.08 268.25 313.63 267.9 313.83 267.54L314.73 267.54L314.73 274.7Z" fill="#262626"/><text x="322.1" y="269.9" font-size="9">4</text></g>
<path d="M398.5 243.5H677.5V10.5H398.5Z" fill="none" stroke="#262626" stroke-width="1"/>
<path d="M398.5 243.5v-3.5M398.5 10.5v3.5M438.36 243.5v-3.5M438.36 10.5v3.5M478.21 243.5v-3.5M478.21 10.5v3.5M518.07 243.5v-3.5M518.07 10.5v3.5M557.93 243.5v-3.5M557.93 10.5v3.5M597.79 243.5v-3.5M597.79 10.5v3.5M637.64 243.5v-3.5M637.64 10.5v3.5M677.5 243.5v-3.5M677.5 10.5v3.5M398.5 243.5h3.5M677.5 243.5h-3.5M398.5 210.21h3.5M677.5 210.21h-3.5M398.5 176.93h3.5M677.5 176.93h-3.5M398.5 143.64h3.5M677.5 143.64h-3.5M398.5 110.36h3.5M677.5 110.36h-3.5M398.5 77.07h3.5M677.5 77.07h-3.5M398.5 43.79h3.5M677.5 43.79h-3.5M398.5 10.5h3.5M677.5 10.5h-3.5" fill="none" stroke="#262626" stroke-width="1"/>
<path d="M398.5 243.5 399.33 243 399.37 242.99 399.43 242.97 399.48 242.96 399.54 242.95 399.6 242.94 399.67 242.92 399.74 242.91 399.81 242.9 399.89 242.88 399.97 242.87 400.06 242.85 400.16 242.84 400.25 242.82 400.36 242.8 400.47 242.79 400.59 242.77 400.71 242.75 400.84 242.74 400.98 242.72 401.13 242.7 401.29 242.68 401.46 242.66 401.63 242.64 401.82 242.62 402.02 242.6 402.23 242.58 402.45 242.56 402.69 242.54 402.94 242.52 403.2 242.49 403.48 242.47 403.78 242.44 404.09 242.42 404.43 242.39 404.78 242.37 405.16 242.34 405.55 242.31 405.97 242.29 406.42 242.26 406.89 242.23 407.39 242.2 407.93 242.17 408.49 242.14 409.08 242.11 409.72 242.07 410.39 242.04 411.1 242.01 411.85 241.97 412.64 241.93 413.49 241.9 414.38 241.86 415.33 241.82 416.34 241.78 417.4 241.74 418.53 241.7 419.73 241.66 420.99 241.62 422.34 241.57 423.76 241.53 425.27 241.48 426.86 241.43 428.56 241.38 430.35 241.33 432.25 241.28 434.27 241.23 436.4 241.18 438.67 241.12 441.07 241.07 443.61 241.01 446.3 240.95 449.15 240.89 452.18 240.83 455.38 240.77 458.78 240.7 462.38 240.64 466.19 240.57 470.23 240.5 474.51 240.43 479.05 240.36 483.86 240.29 488.96 240.21 494.36 240.13 500.08 240.06 506.14 239.97 512.57 239.89 519.38 239.81 526.6 239.72 534.24 239.63 542.35 239.54 550.93 239.45 560.03 239.35 569.68 239.26 579.9 239.16 590.73 239.05 602.2 238.95 614.36 238.84 627.25 238.73 640.91 238.62 655.38 238.51" fill="none" stroke="#000000" stroke-width="1"/>
<path d="M399.33 20.81 399.37 20.87 399.43 20.95 399.48 21.04 399.54 21.13 399.6 21.24 399.67 21.35 399.74 21.48 399.81 21.63 399.89 21.79 399.97 21.97 400.06 22.17 400.16 22.4 400.25 22.64 400.36 22.92 400.47 23.22 400.59 23.56 400.71 23.93 400.84 24.34 400.98 24.79 401.13 25.29 401.29 25.84 401.46 26.44 401.63 27.09 401.82 27.81 402.02 28.59 402.23 29.44 402.45 30.36 402.69 31.35 402.94 32.42 403.2 33.56 403.48 34.78 403.78 36.11 404.09 37.55 404.43 39.13 404.78 40.87 405.16 42.82 405.55 45 405.97 47.48 406.42 50.26 406.89 53.33 407.39 56.66 407.93 60.2 408.49 63.88 409.08 67.65 409.72 71.53 410.39 75.52 411.1 79.69 411.85 84.07 412.64 88.72 413.49 93.6 414.38 98.62 415.33 103.68 416.34 108.67 417.4 113.56 418.53 118.4 419.73 123.25 420.99 128.18 422.34 133.34 423.76 138.89 425.27 144.88 426.86 151.05 428.56 157.03 430.35 162.48 432.25 167.35 434.27 171.72 436.4 175.69 438.67 179.43 441.07 183.13 443.61 186.8 446.3 190.41 449.15 193.93 452.18 197.35 455.38 200.64 458.78 203.78 462.38 206.73 466.19 209.49 470.23 212.02 474.51 214.33 479.05 216.4 483.86 218.25 488.96 219.9 494.36 221.41 500.08 222.83 506.14 224.21 512.57 225.54 519.38 226.81 526.6 228 534.24 229.1 542.35 230.12 550.93 231.03 560.03 231.83 569.68 232.52 579.9 233.11 590.73 233.61 602.2 234.02 614.36 234.4 627.25 234.78 640.91 235.23 655.38 235.85" fill="none" stroke="#ff0000" stroke-width="1"/>
<path d="M396 20.5h7M399.5 17v7M396 20.5h7M399.5 17v7M396 20.5h7M399.5 17v7M396 21.5h7M399.5 18v7M396 21.5h7M399.5 18v7M396 21.5h7M399.5 18v7M396 21.5h7M399.5 18v7M396 21.5h7M399.5 18v7M396 21.5h7M399.5 18v7M396 21.5h7M399.5 18v7M396 21.5h7M399.5 18v7M397 22.5h7M400.5 19v7M397 22.5h7M400.5 19v7M397 22.5h7M400.5 19v7M397 22.5h7M400.5 19v7M397 23.5h7M400.5 20v7M397 23.5h7M400.5 20v7M397 23.5h7M400.5 20v7M397 24.5h7M400.5 21v7M397 24.5h7M400.5 21v7M398 25.5h7M401.5 22v7M398 25.5h7M401.5 22v7M398 26.5h7M401.5 23v7M398 27.5h7M401.5 24v7M398 27.5h7M401.5 24v7M399 28.5h7M402.5 25v7M399 29.5h7M402.5 26v7M399 30.5h7M402.5 27v7M399 31.5h7M402.5 28v7M399 32.5h7M402.5 29v7M400 33.5h7M403.5 30v7M400 34.5h7M403.5 31v7M400 36.5h7M403.5 33v7M401 37.5h7M404.5 34v7M401 39.5h7M404.5 36v7M401 40.5h7M404.5 37v7M402 42.5h7M405.5 39v7M402 45.5h7M405.5 42v7M402 47.5h7M405.5 44v7M403 50.5h7M406.5 47v7M403 53.5h7M406.5 50v7M404 56.5h7M407.5 53v7M404 60.5h7M407.5 57v7M405 63.5h7M408.5 60v7M406 67.5h7M409.5 64v7M406 71.5h7M409.5 68v7M407 75.5h7M410.5 72v7M408 79.5h7M411.5 76v7M408 84.5h7M411.5 81v7M409 88.5h7M412.5 85v7M410 93.5h7M413.5 90v7M411 98.5h7M414.5 95v7M412 103.5h7M415.5 100v7M413 108.5h7M416.5 105v7M414 113.5h7M417.5 110v7M415 118.5h7M418.5 115v7M416 123.5h7M419.5 120v7M417 128.5h7M420.5 125v7M419 133.5h7M422.5 130v7M420 138.5h7M423.5 135v7M422 144.5h7M425.5 141v7M423 151.5h7M426.5 148v7M425 157.5h7M428.5 154v7M427 162.5h7M430.5 159v7M429 167.5h7M432.5 164v7M431 171.5h7M434.5 168v7M433 175.5h7M436.5 172v7M435 179.5h7M438.5 176v7M438 183.5h7M441.5 180v7M440 186.5h7M443.5 183v7M443 190.5h7M446.5 187v7M446 193.5h7M449.5 190v7M449 197.5h7M452.5 194v7M452 200.5h7M455.5 197v7M455 203.5h7M458.5 200v7M459 206.5h7M462.5 203v7M463 209.5h7M466.5 206v7M467 212.5h7M470.5 209v7M471 214.5h7M474.5 211v7M476 216.5h7M479.5 213v7M480 218.5h7M483.5 215v7M485 219.5h7M488.5 216v7M491 221.5h7M494.5 218v7M497 222.5h7M500.5 219v7M503 224.5h7M506.5 221v7M509 225.5h7M512.5 222v7M516 226.5h7M519.5 223v7M523 227.5h7M526.5 224v7M531 229.5h7M534.5 226v7M539 230.5h7M542.5 227v7M547 231.5h7M550.5 228v7M557 231.5h7M560.5 228v7M566 232.5h7M569.5 229v7M576 233.5h7M579.5 230v7M587 233.5h7M590.5 230v7M599 234.5h7M602.5 231v7M611 234.5h7M614.5 231v7M624 234.5h7M627.5 231v7M637 235.5h7M640.5 232v7M652 235.5h7M655.5 232v7" fill="none" stroke="#ff0000" stroke-width="1"/>
<path d="M399.33 49.35 399.37 49.35 399.43 49.35 399.48 49.36 399.54 49.36 399.6 49.37 399.67 49.38 399.74 49.38 399.81 49.39 399.89 49.4 399.97 49.41 400.06 49.43 400.16 49.44 400.25 49.46 400.36 49.47 400.47 49.49 400.59 49.52 400.71 49.54 400.84 49.57 400.98 49.6 401.13 49.64 401.29 49.68 401.46 49.72 401.63 49.77 401.82 49.82 402.02 49.89 402.23 49.96 402.45 50.03 402.69 50.12 402.94 50.22 403.2 50.33 403.48 50.45 403.78 50.59 404.09 50.74 404.43 50.92 404.78 51.11 405.16 51.32 405.55 51.56 405.97 51.83 406.42 52.13 406.89 52.46 407.39 52.83 407.93 53.25 408.49 53.71 409.08 54.22 409.72 54.79 410.39 55.42 411.1 56.12 411.85 56.9 412.64 57.77 413.49 58.73 414.38 59.79 415.33 60.96 416.34 62.25 417.4 63.67 418.53 65.24 419.73 66.96 420.99 68.85 422.34 70.91 423.76 73.16 425.27 75.62 426.86 78.28 428.56 81.16 430.35 84.27 432.25 87.6 434.27 91.16 436.4 94.95 438.67 98.97 441.07 103.2 443.61 107.62 446.3 112.21 449.15 116.91 452.18 121.69 455.38 126.54 458.78 131.42 462.38 136.33 466.19 141.26 470.23 146.17 474.51 151.06 479.05 155.91 483.86 160.7 488.96 165.41 494.36 170.05 500.08 174.59 506.14 179.06 512.57 183.42 519.38 187.66 526.6 191.73 534.24 195.6 542.35 199.26 550.93 202.67 560.03 205.8 569.68 208.66 579.9 211.23 590.73 213.52 602.2 215.58 614.36 217.45 627.25 219.25 640.91 221.1 655.38 223.22" fill="none" stroke="#0000ff" stroke-width="1"/>
<path d="M396.75 46.75l5.5 5.5M396.75 52.25l5.5 -5.5M396.75 46.75l5.5 5.5M396.75 52.25l5.5 -5.5M396.75 46.75l5.5 5.5M396.75 52.25l5.5 -5.5M396.75 46.75l5.5 5.5M396.75 52.25l5.5 -5.5M396.75 46.75l5.5 5.5M396.75 52.25l5.5 -5.5M396.75 46.75l5.5 5.5M396.75 52.25l5.5 -5.5M396.75 46.75l5.5 5.5M396.75 52.25l5.5 -5.5M396.75 46.75l5.5 5.5M396.75 52.25l5.5 -5.5M396.75 46.75l5.5 5.5M396.75 52.25l5.5 -5.5M396.75 46.75l5.5 5.5M396.75 52.25l5.5 -5.5M396.75 46.75l5.5 5.5M396.75 52.25l5.5 -5.5M397.75 46.75l5.5 5.5M397.75 52.25l5.5 -5.5M397.75 46.75l5.5 5.5M397.75 52.25l5.5 -5.5M397.75 46.75l5.5 5.5M397.75 52.25l5.5 -5.5M397.75 46.75l5.5 5.5M397.75 52.25l5.5 -5.5M397.75 46.75l5.5 5.5M397.75 52.25l5.5 -5.5M397.75 46.75l5.5 5.5M397.75 52.25l5.5 -5.5M397.75 46.75l5.5 5.5M397.75 52.25l5.5 -5.5M397.75 46.75l5.5 5.5M397.75 52.25l5.5 -5.5M397.75 46.75l5.5 5.5M397.75 52.25l5.5 -5.5M398.75 46.75l5.5 5.5M398.75 52.25l5.5 -5.5M398.75 46.75l5.5 5.5M398.75 52.25l5.5 -5.5M398.75 46.75l5.5 5.5M398.75 52.25l5.5 -5.5M398.75 46.75l5.5 5.5M398.75 52.25l5.5 -5.5M398.75 46.75l5.5 5.5M398.75 52.25l5.5 -5.5M399.75 46.75l5.5 5.5M399.75 52.25l5.5 -5.5M399.75 46.75l5.5 5.5M399.75 52.25l5.5 -5.5M399.75 47.75l5.5 5.5M399.75 53.25l5.5 -5.5M399.75 47.75l5.5 5.5M399.75 53.25l5.5 -5.5M399.75 47.75l5.5 5.5M399.75 53.25l5.5 -5.5M400.75 47.75l5.5 5.5M400.75 53.25l5.5 -5.5M400.75 47.75l5.5 5.5M400.75 53.25l5.5 -5.5M400.75 47.75l5.5 5.5M400.75 53.25l5.5 -5.5M401.75 47.75l5.5 5.5M401.75 53.25l5.5 -5.5M401.75 47.75l5.5 5.5M401.75 53.25l5.5 -5.5M401.75 48.75l5.5 5.5M401.75 54.25l5.5 -5.5M402.75 48.75l5.5 5.5M402.75 54.25l5.5 -5.5M402.75 48.75l5.5 5.5M402.75 54.25l5.5 -5.5M402.75 48.75l5.5 5.5M402.75 54.25l5.5 -5.5M403.75 49.75l5.5 5.5M403.75 55.25l5.5 -5.5M403.75 49.75l5.5 5.5M403.75 55.25l5.5 -5.5M404.75 49.75l5.5 5.5M404.75 55.25l5.5 -5.5M404.75 50.75l5.5 5.5M404.75 56.25l5.5 -5.5M405.75 50.75l5.5 5.5M405.75 56.25l5.5 -5.5M406.75 51.75l5.5 5.5M406.75 57.25l5.5 -5.5M406.75 51.75l5.5 5.5M406.75 57.25l5.5 -5.5M407.75 52.75l5.5 5.5M407.75 58.25l5.5 -5.5M408.75 53.75l5.5 5.5M408.75 59.25l5.5 -5.5M408.75 53.75l5.5 5.5M408.75 59.25l5.5 -5.5M409.75 54.75l5.5 5.5M409.75 60.25l5.5 -5.5M410.75 55.75l5.5 5.5M410.75 61.25l5.5 -5.5M411.75 56.75l5.5 5.5M411.75 62.25l5.5 -5.5M412.75 57.75l5.5 5.5M412.75 63.25l5.5 -5.5M413.75 59.75l5.5 5.5M413.75 65.25l5.5 -5.5M414.75 60.75l5.5 5.5M414.75 66.25l5.5 -5.5M415.75 62.75l5.5 5.5M415.75 68.25l5.5 -5.5M416.75 63.75l5.5 5.5M416.75 69.25l5.5 -5.5M417.75 65.75l5.5 5.5M417.75 71.25l5.5 -5.5M419.75 67.75l5.5 5.5M419.75 73.25l5.5 -5.5M420.75 70.75l5.5 5.5M420.75 76.25l5.5 -5.5M422.75 72.75l5.5 5.5M422.75 78.25l5.5 -5.5M423.75 75.75l5.5 5.5M423.75 81.25l5.5 -5.5M425.75 78.75l5.5 5.5M425.75 84.25l5.5 -5.5M427.75 81.75l5.5 5.5M427.75 87.25l5.5 -5.5M429.75 84.75l5.5 5.5M429.75 90.25l5.5 -5.5M431.75 88.75l5.5 5.5M431.75 94.25l5.5 -5.5M433.75 91.75l5.5 5.5M433.75 97.25l5.5 -5.5M435.75 95.75l5.5 5.5M435.75 101.25l5.5 -5.5M438.75 100.75l5.5 5.5M438.75 106.25l5.5 -5.5M440.75 104.75l5.5 5.5M440.75 110.25l5.5 -5.5M443.75 109.75l5.5 5.5M443.75 115.25l5.5 -5.5M446.75 113.75l5.5 5.5M446.75 119.25l5.5 -5.5M449.75 118.75l5.5 5.5M449.75 124.25l5.5 -5.5M452.75 123.75l5.5 5.5M452.75 129.25l5.5 -5.5M455.75 128.75l5.5 5.5M455.75 134.25l5.5 -5.5M459.75 133.75l5.5 5.5M459.75 139.25l5.5 -5.5M463.75 138.75l5.5 5.5M463.75 144.25l5.5 -5.5M467.75 143.75l5.5 5.5M467.75 149.25l5.5 -5.5M471.75 148.75l5.5 5.5M471.75 154.25l5.5 -5.5M476.75 152.75l5.5 5.5M476.75 158.25l5.5 -5.5M480.75 157.75l5.5 5.5M480.75 163.25l5.5 -5.5M485.75 162.75l5.5 5.5M485.75 168.25l5.5 -5.5M491.75 167.75l5.5 5.5M491.75 173.25l5.5 -5.5M497.75 171.75l5.5 5.5M497.75 177.25l5.5 -5.5M503.75 176.75l5.5 5.5M503.75 182.25l5.5 -5.5M509.75 180.75l5.5 5.5M509.75 186.25l5.5 -5.5M516.75 184.75l5.5 5.5M516.75 190.25l5.5 -5.5M523.75 188.75l5.5 5.5M523.75 194.25l5.5 -5.5M531.75 192.75l5.5 5.5M531.75 198.25l5.5 -5.5M539.75 196.75l5.5 5.5M539.75 202.25l5.5 -5.5M547.75 199.75l5.5 5.5M547.75 205.25l5.5 -5.5M557.75 202.75l5.5 5.5M557.75 208.25l5.5 -5.5M566.75 205.75l5.5 5.5M566.75 211.25l5.5 -5.5M576.75 208.75l5.5 5.5M576.75 214.25l5.5 -5.5M587.75 210.75l5.5 5.5M587.75 216.25l5.5 -5.5M599.75 212.75l5.5 5.5M599.75 218.25l5.5 -5.5M611.75 214.75l5.5 5.5M611.75 220.25l5.5 -5.5M624.75 216.75l5.5 5.5M624.75 222.25l5.5 -5.5M637.75 218.75l5.5 5.5M637.75 224.25l5.5 -5.5M652.75 220.75l5.5 5.5M652.75 226.25l5.5 -5.5" fill="none" stroke="#0000ff" stroke-width="1.15"/>
<path d="M399.33 73.13 399.37 73.14 399.43 73.14 399.48 73.14 399.54 73.14 399.6 73.14 399.67 73.15 399.74 73.15 399.81 73.15 399.89 73.16 399.97 73.16 400.06 73.17 400.16 73.17 400.25 73.18 400.36 73.19 400.47 73.2 400.59 73.21 400.71 73.22 400.84 73.23 400.98 73.24 401.13 73.26 401.29 73.27 401.46 73.29 401.63 73.31 401.82 73.33 402.02 73.36 402.23 73.39 402.45 73.42 402.69 73.46 402.94 73.5 403.2 73.54 403.48 73.59 403.78 73.65 404.09 73.71 404.43 73.78 404.78 73.86 405.16 73.95 405.55 74.04 405.97 74.15 406.42 74.28 406.89 74.41 407.39 74.57 407.93 74.74 408.49 74.93 409.08 75.14 409.72 75.37 410.39 75.63 411.1 75.93 411.85 76.25 412.64 76.61 413.49 77.01 414.38 77.46 415.33 77.95 416.34 78.5 417.4 79.1 418.53 79.77 419.73 80.51 420.99 81.33 422.34 82.23 423.76 83.21 425.27 84.3 426.86 85.49 428.56 86.8 430.35 88.22 432.25 89.77 434.27 91.45 436.4 93.27 438.67 95.23 441.07 97.35 443.61 99.6 446.3 102.01 449.15 104.54 452.18 107.21 455.38 110.02 458.78 112.98 462.38 116.09 466.19 119.36 470.23 122.82 474.51 126.46 479.05 130.28 483.86 134.27 488.96 138.43 494.36 142.75 500.08 147.19 506.14 151.74 512.57 156.36 519.38 160.99 526.6 165.6 534.24 170.16 542.35 174.66 550.93 179.05 560.03 183.33 569.68 187.46 579.9 191.42 590.73 195.2 602.2 198.77 614.36 202.15 627.25 205.32 640.91 208.33 655.38 211.21" fill="none" stroke="#00ff00" stroke-width="1"/>
<path d="M396 73.5h7M399.5 70v7M396.8 70.8l5.4 5.4M396.8 76.2l5.4 -5.4M396 73.5h7M399.5 70v7M396.8 70.8l5.4 5.4M396.8 76.2l5.4 -5.4M396 73.5h7M399.5 70v7M396.8 70.8l5.4 5.4M396.8 76.2l5.4 -5.4M396 73.5h7M399.5 70v7M396.8 70.8l5.4 5.4M396.8 76.2l5.4 -5.4M396 73.5h7M399.5 70v7M396.8 70.8l5.4 5.4M396.8 76.2l5.4 -5.4M396 73.5h7M399.5 70v7M396.8 70.8l5.4 5.4M396.8 76.2l5.4 -5.4M396 73.5h7M399.5 70v7M396.8 70.8l5.4 5.4M396.8 76.2l5.4 -5.4M396 73.5h7M399.5 70v7M396.8 70.8l5.4 5.4M396.8 76.2l5.4 -5.4M396 73.5h7M399.5 70v7M396.8 70.8l5.4 5.4M396.8 76.2l5.4 -5.4M396 73.5h7M399.5 70v7M396.8 70.8l5.4 5.4M396.8 76.2l5.4 -5.4M396 73.5h7M399.5 70v7M396.8 70.8l5.4 5.4M396.8 76.2l5.4 -5.4M397 73.5h7M400.5 70v7M397.8 70.8l5.4 5.4M397.8 76.2l5.4 -5.4M397 73.5h7M400.5 70v7M397.8 70.8l5.4 5.4M397.8 76.2l5.4 -5.4M397 73.5h7M400.5 70v7M397.8 70.8l5.4 5.4M397.8 76.2l5.4 -5.4M397 73.5h7M400.5 70v7M397.8 70.8l5.4 5.4M397.8 76.2l5.4 -5.4M397 73.5h7M400.5 70v7M397.8 70.8l5.4 5.4M397.8 76.2l5.4 -5.4M397 73.5h7M400.5 70v7M397.8 70.8l5.4 5.4M397.8 76.2l5.4 -5.4M397 73.5h7M400.5 70v7M397.8 70.8l5.4 5.4M397.8 76.2l5.4 -5.4M397 73.5h7M400.5 70v7M397.8 70.8l5.4 5.4M397.8 76.2l5.4 -5.4M397 73.5h7M400.5 70v7M397.8 70.8l5.4 5.4M397.8 76.2l5.4 -5.4M398 73.5h7M401.5 70v7M398.8 70.8l5.4 5.4M398.8 76.2l5.4 -5.4M398 73.5h7M401.5 70v7M398.8 70.8l5.4 5.4M398.8 76.2l5.4 -5.4M398 73.5h7M401.5 70v7M398.8 70.8l5.4 5.4M398.8 76.2l5.4 -5.4M398 73.5h7M401.5 70v7M398.8 70.8l5.4 5.4M398.8 76.2l5.4 -5.4M398 73.5h7M401.5 70v7M398.8 70.8l5.4 5.4M398.8 76.2l5.4 -5.4M399 73.5h7M402.5 70v7M399.8 70.8l5.4 5.4M399.8 76.2l5.4 -5.4M399 73.5h7M402.5 70v7M399.8 70.8l5.4 5.4M399.8 76.2l5.4 -5.4M399 73.5h7M402.5 70v7M399.8 70.8l5.4 5.4M399.8 76.2l5.4 -5.4M399 73.5h7M402.5 70v7M399.8 70.8l5.4 5.4M399.8 76.2l5.4 -5.4M399 73.5h7M402.5 70v7M399.8 70.8l5.4 5.4M399.8 76.2l5.4 -5.4M400 73.5h7M403.5 70v7M400.8 70.8l5.4 5.4M400.8 76.2l5.4 -5.4M400 73.5h7M403.5 70v7M400.8 70.8l5.4 5.4M400.8 76.2l5.4 -5.4M400 73.5h7M403.5 70v7M400.8 70.8l5.4 5.4M400.8 76.2l5.4 -5.4M401 73.5h7M404.5 70v7M401.8 70.8l5.4 5.4M401.8 76.2l5.4 -5.4M401 73.5h7M404.5 70v7M401.8 70.8l5.4 5.4M401.8 76.2l5.4 -5.4M401 73.5h7M404.5 70v7M401.8 70.8l5.4 5.4M401.8 76.2l5.4 -5.4M402 73.5h7M405.5 70v7M402.8 70.8l5.4 5.4M402.8 76.2l5.4 -5.4M402 74.5h7M405.5 71v7M402.8 71.8l5.4 5.4M402.8 77.2l5.4 -5.4M402 74.5h7M405.5 71v7M402.8 71.8l5.4 5.4M402.8 77.2l5.4 -5.4M403 74.5h7M406.5 71v7M403.8 71.8l5.4 5.4M403.8 77.2l5.4 -5.4M403 74.5h7M406.5 71v7M403.8 71.8l5.4 5.4M403.8 77.2l5.4 -5.4M404 74.5h7M407.5 71v7M404.8 71.8l5.4 5.4M404.8 77.2l5.4 -5.4M404 74.5h7M407.5 71v7M404.8 71.8l5.4 5.4M404.8 77.2l5.4 -5.4M405 74.5h7M408.5 71v7M405.8 71.8l5.4 5.4M405.8 77.2l5.4 -5.4M406 75.5h7M409.5 72v7M406.8 72.8l5.4 5.4M406.8 78.2l5.4 -5.4M406 75.5h7M409.5 72v7M406.8 72.8l5.4 5.4M406.8 78.2l5.4 -5.4M407 75.5h7M410.5 72v7M407.8 72.8l5.4 5.4M407.8 78.2l5.4 -5.4M408 75.5h7M411.5 72v7M408.8 72.8l5.4 5.4M408.8 78.2l5.4 -5.4M408 76.5h7M411.5 73v7M408.8 73.8l5.4 5.4M408.8 79.2l5.4 -5.4M409 76.5h7M412.5 73v7M409.8 73.8l5.4 5.4M409.8 79.2l5.4 -5.4M410 77.5h7M413.5 74v7M410.8 74.8l5.4 5.4M410.8 80.2l5.4 -5.4M411 77.5h7M414.5 74v7M411.8 74.8l5.4 5.4M411.8 80.2l5.4 -5.4M412 77.5h7M415.5 74v7M412.8 74.8l5.4 5.4M412.8 80.2l5.4 -5.4M413 78.5h7M416.5 75v7M413.8 75.8l5.4 5.4M413.8 81.2l5.4 -5.4M414 79.5h7M417.5 76v7M414.8 76.8l5.4 5.4M414.8 82.2l5.4 -5.4M415 79.5h7M418.5 76v7M415.8 76.8l5.4 5.4M415.8 82.2l5.4 -5.4M416 80.5h7M419.5 77v7M416.8 77.8l5.4 5.4M416.8 83.2l5.4 -5.4M417 81.5h7M420.5 78v7M417.8 78.8l5.4 5.4M417.8 84.2l5.4 -5.4M419 82.5h7M422.5 79v7M419.8 79.8l5.4 5.4M419.8 85.2l5.4 -5.4M420 83.5h7M423.5 80v7M420.8 80.8l5.4 5.4M420.8 86.2l5.4 -5.4M422 84.5h7M425.5 81v7M422.8 81.8l5.4 5.4M422.8 87.2l5.4 -5.4M423 85.5h7M426.5 82v7M423.8 82.8l5.4 5.4M423.8 88.2l5.4 -5.4M425 86.5h7M428.5 83v7M425.8 83.8l5.4 5.4M425.8 89.2l5.4 -5.4M427 88.5h7M430.5 85v7M427.8 85.8l5.4 5.4M427.8 91.2l5.4 -5.4M429 89.5h7M432.5 86v7M429.8 86.8l5.4 5.4M429.8 92.2l5.4 -5.4M431 91.5h7M434.5 88v7M431.8 88.8l5.4 5.4M431.8 94.2l5.4 -5.4M433 93.5h7M436.5 90v7M433.8 90.8l5.4 5.4M433.8 96.2l5.4 -5.4M435 95.5h7M438.5 92v7M435.8 92.8l5.4 5.4M435.8 98.2l5.4 -5.4M438 97.5h7M441.5 94v7M438.8 94.8l5.4 5.4M438.8 100.2l5.4 -5.4M440 99.5h7M443.5 96v7M440.8 96.8l5.4 5.4M440.8 102.2l5.4 -5.4M443 102.5h7M446.5 99v7M443.8 99.8l5.4 5.4M443.8 105.2l5.4 -5.4M446 104.5h7M449.5 101v7M446.8 101.8l5.4 5.4M446.8 107.2l5.4 -5.4M449 107.5h7M452.5 104v7M449.8 104.8l5.4 5.4M449.8 110.2l5.4 -5.4M452 110.5h7M455.5 107v7M452.8 107.8l5.4 5.4M452.8 113.2l5.4 -5.4M455 112.5h7M458.5 109v7M455.8 109.8l5.4 5.4M455.8 115.2l5.4 -5.4M459 116.5h7M462.5 113v7M459.8 113.8l5.4 5.4M459.8 119.2l5.4 -5.4M463 119.5h7M466.5 116v7M463.8 116.8l5.4 5.4M463.8 122.2l5.4 -5.4M467 122.5h7M470.5 119v7M467.8 119.8l5.4 5.4M467.8 125.2l5.4 -5.4M471 126.5h7M474.5 123v7M471.8 123.8l5.4 5.4M471.8 129.2l5.4 -5.4M476 130.5h7M479.5 127v7M476.8 127.8l5.4 5.4M476.8 133.2l5.4 -5.4M480 134.5h7M483.5 131v7M480.8 131.8l5.4 5.4M480.8 137.2l5.4 -5.4M485 138.5h7M488.5 135v7M485.8 135.8l5.4 5.4M485.8 141.2l5.4 -5.4M491 142.5h7M494.5 139v7M491.8 139.8l5.4 5.4M491.8 145.2l5.4 -5.4M497 147.5h7M500.5 144v7M497.8 144.8l5.4 5.4M497.8 150.2l5.4 -5.4M503 151.5h7M506.5 148v7M503.8 148.8l5.4 5.4M503.8 154.2l5.4 -5.4M509 156.5h7M512.5 153v7M509.8 153.8l5.4 5.4M509.8 159.2l5.4 -5.4M516 160.5h7M519.5 157v7M516.8 157.8l5.4 5.4M516.8 163.2l5.4 -5.4M523 165.5h7M526.5 162v7M523.8 162.8l5.4 5.4M523.8 168.2l5.4 -5.4M531 170.5h7M534.5 167v7M531.8 167.8l5.4 5.4M531.8 173.2l5.4 -5.4M539 174.5h7M542.5 171v7M539.8 171.8l5.4 5.4M539.8 177.2l5.4 -5.4M547 179.5h7M550.5 176v7M547.8 176.8l5.4 5.4M547.8 182.2l5.4 -5.4M557 183.5h7M560.5 180v7M557.8 180.8l5.4 5.4M557.8 186.2l5.4 -5.4M566 187.5h7M569.5 184v7M566.8 184.8l5.4 5.4M566.8 190.2l5.4 -5.4M576 191.5h7M579.5 188v7M576.8 188.8l5.4 5.4M576.8 194.2l5.4 -5.4M587 195.5h7M590.5 192v7M587.8 192.8l5.4 5.4M587.8 198.2l5.4 -5.4M599 198.5h7M602.5 195v7M599.8 195.8l5.4 5.4M599.8 201.2l5.4 -5.4M611 202.5h7M614.5 199v7M611.8 199.8l5.4 5.4M611.8 205.2l5.4 -5.4M624 205.5h7M627.5 202v7M624.8 202.8l5.4 5.4M624.8 208.2l5.4 -5.4M637 208.5h7M640.5 205v7M637.8 205.8l5.4 5.4M637.8 211.2l5.4 -5.4M652 211.5h7M655.5 208v7M652.8 208.8l5.4 5.4M652.8 214.2l5.4 -5.4" fill="none" stroke="#00ff00" stroke-width="1"/>
<path d="M399.33 96.92 399.37 96.92 399.43 96.92 399.48 96.92 399.54 96.92 399.6 96.92 399.67 96.92 399.74 96.93 399.81 96.93 399.89 96.93 399.97 96.93 400.06 96.93 400.16 96.93 400.25 96.94 400.36 96.94 400.47 96.94 400.59 96.95 400.71 96.95 400.84 96.96 400.98 96.96 401.13 96.97 401.29 96.97 401.46 96.98 401.63 96.99 401.82 97 402.02 97.01 402.23 97.02 402.45 97.03 402.69 97.04 402.94 97.06 403.2 97.07 403.48 97.09 403.78 97.12 404.09 97.14 404.43 97.17 404.78 97.2 405.16 97.23 405.55 97.27 405.97 97.31 406.42 97.36 406.89 97.41 407.39 97.47 407.93 97.54 408.49 97.61 409.08 97.69 409.72 97.79 410.39 97.89 411.1 98 411.85 98.13 412.64 98.28 413.49 98.44 414.38 98.62 415.33 98.82 416.34 99.04 417.4 99.29 418.53 99.57 419.73 99.88 420.99 100.23 422.34 100.61 423.76 101.04 425.27 101.52 426.86 102.04 428.56 102.63 430.35 103.28 432.25 104 434.27 104.8 436.4 105.68 438.67 106.65 441.07 107.73 443.61 108.91 446.3 110.21 449.15 111.64 452.18 113.21 455.38 114.92 458.78 116.79 462.38 118.82 466.19 121.03 470.23 123.41 474.51 125.99 479.05 128.75 483.86 131.71 488.96 134.87 494.36 138.21 500.08 141.73 506.14 145.41 512.57 149.22 519.38 153.12 526.6 157.1 534.24 161.13 542.35 165.22 550.93 169.33 560.03 173.44 569.68 177.54 579.9 181.6 590.73 185.58 602.2 189.44 614.36 193.15 627.25 196.66 640.91 199.93 655.38 202.88" fill="none" stroke="#ff00ff" stroke-width="1"/>
<path d="M396.5 96.5a3 3 0 1 0 6 0a3 3 0 1 0 -6 0M396.5 96.5a3 3 0 1 0 6 0a3 3 0 1 0 -6 0M396.5 96.5a3 3 0 1 0 6 0a3 3 0 1 0 -6 0M396.5 96.5a3 3 0 1 0 6 0a3 3 0 1 0 -6 0M396.5 96.5a3 3 0 1 0 6 0a3 3 0 1 0 -6 0M396.5 96.5a3 3 0 1 0 6 0a3 3 0 1 0 -6 0M396.5 96.5a3 3 0 1 0 6 0a3 3 0 1 0 -6 0M396.5 96.5a3 3 0 1 0 6 0a3 3 0 1 0 -6 0M396.5 96.5a3 3 0 1 0 6 0a3 3 0 1 0 -6 0M396.5 96.5a3 3 0 1 0 6 0a3 3 0 1 0 -6 0M396.5 96.5a3 3 0 1 0 6 0a3 3 0 1 0 -6 0M397.5 96.5a3 3 0 1 0 6 0a3 3 0 1 0 -6 0M397.5 96.5a3 3 0 1 0 6 0a3 3 0 1 0 -6 0M397.5 96.5a3 3 0 1 0 6 0a3 3 0 1 0 -6 0M397.5 96.5a3 3 0 1 0 6 0a3 3 0 1 0 -6 0M397.5 96.5a3 3 0 1 0 6 0a3 3 0 1 0 -6 0M397.5 96.5a3 3 0 1 0 6 0a3 3 0 1 0 -6 0M397.5 96.5a3 3 0 1 0 6 0a3 3 0 1 0 -6 0M397.5 96.5a3 3 0 1 0 6 0a3 3 0 1 0 -6 0M397.5 96.5a3 3 0 1 0 6 0a3 3 0 1 0 -6 0M398.5 96.5a3 3 0 1 0 6 0a3 3 0 1 0 -6 0M398.5 96.5a3 3 0 1 0 6 0a3 3 0 1 0 -6 0M398.5 96.5a3 3 0 1 0 6 0a3 3 0 1 0 -6 0M398.5 96.5a3 3 0 1 0 6 0a3 3 0 1 0 -6 0M398.5 96.5a3 3 0 1 0 6 0a3 3 0 1 0 -6 0M399.5 97.5a3 3 0 1 0 6 0a3 3 0 1 0 -6 0M399.5 97.5a3 3 0 1 0 6 0a3 3 0 1 0 -6 0M399.5 97.5a3 3 0 1 0 6 0a3 3 0 1 0 -6 0M399.5 97.5a3 3 0 1 0 6 0a3 3 0 1 0 -6 0M399.5 97.5a3 3 0 1 0 6 0a3 3 0 1 0 -6 0M400.5 97.5a3 3 0 1 0 6 0a3 3 0 1 0 -6 0M400.5 97.5a3 3 0 1 0 6 0a3 3 0 1 0 -6 0M400.5 97.5a3 3 0 1 0 6 0a3 3 0 1 0 -6 0M401.5 97.5a3 3 0 1 0 6 0a3 3 0 1 0 -6 0M401.5 97.5a3 3 0 1 0 6 0a3 3 0 1 0 -6 0M401.5 97.5a3 3 0 1 0 6 0a3 3 0 1 0 -6 0M402.5 97.5a3 3 0 1 0 6 0a3 3 0 1 0 -6 0M402.5 97.5a3 3 0 1 0 6 0a3 3 0 1 0 -6 0M402.5 97.5a3 3 0 1 0 6 0a3 3 0 1 0 -6 0M403.5 97.5a3 3 0 1 0 6 0a3 3 0 1 0 -6 0M403.5 97.5a3 3 0 1 0 6 0a3 3 0 1 0 -6 0M404.5 97.5a3 3 0 1 0 6 0a3 3 0 1 0 -6 0M404.5 97.5a3 3 0 1 0 6 0a3 3 0 1 0 -6 0M405.5 97.5a3 3 0 1 0 6 0a3 3 0 1 0 -6 0M406.5 97.5a3 3 0 1 0 6 0a3 3 0 1 0 -6 0M406.5 97.5a3 3 0 1 0 6 0a3 3 0 1 0 -6 0M407.5 97.5a3 3 0 1 0 6 0a3 3 0 1 0 -6 0M408.5 98.5a3 3 0 1 0 6 0a3 3 0 1 0 -6 0M408.5 98.5a3 3 0 1 0 6 0a3 3 0 1 0 -6 0M409.5 98.5a3 3 0 1 0 6 0a3 3 0 1 0 -6 0M410.5 98.5a3 3 0 1 0 6 0a3 3 0 1 0 -6 0M411.5 98.5a3 3 0 1 0 6 0a3 3 0 1 0 -6 0M412.5 98.5a3 3 0 1 0 6 0a3 3 0 1 0 -6 0M413.5 99.5a3 3 0 1 0 6 0a3 3 0 1 0 -6 0M414.5 99.5a3 3 0 1 0 6 0a3 3 0 1 0 -6 0M415.5 99.5a3 3 0 1 0 6 0a3 3 0 1 0 -6 0M416.5 99.5a3 3 0 1 0 6 0a3 3 0 1 0 -6 0M417.5 100.5a3 3 0 1 0 6 0a3 3 0 1 0 -6 0M419.5 100.5a3 3 0 1 0 6 0a3 3 0 1 0 -6 0M420.5 101.5a3 3 0 1 0 6 0a3 3 0 1 0 -6 0M422.5 101.5a3 3 0 1 0 6 0a3 3 0 1 0 -6 0M423.5 102.5a3 3 0 1 0 6 0a3 3 0 1 0 -6 0M425.5 102.5a3 3 0 1 0 6 0a3 3 0 1 0 -6 0M427.5 103.5a3 3 0 1 0 6 0a3 3 0 1 0 -6 0M429.5 103.5a3 3 0 1 0 6 0a3 3 0 1 0 -6 0M431.5 104.5a3 3 0 1 0 6 0a3 3 0 1 0 -6 0M433.5 105.5a3 3 0 1 0 6 0a3 3 0 1 0 -6 0M435.5 106.5a3 3 0 1 0 6 0a3 3 0 1 0 -6 0M438.5 107.5a3 3 0 1 0 6 0a3 3 0 1 0 -6 0M440.5 108.5a3 3 0 1 0 6 0a3 3 0 1 0 -6 0M443.5 110.5a3 3 0 1 0 6 0a3 3 0 1 0 -6 0M446.5 111.5a3 3 0 1 0 6 0a3 3 0 1 0 -6 0M449.5 113.5a3 3 0 1 0 6 0a3 3 0 1 0 -6 0M452.5 114.5a3 3 0 1 0 6 0a3 3 0 1 0 -6 0M455.5 116.5a3 3 0 1 0 6 0a3 3 0 1 0 -6 0M459.5 118.5a3 3 0 1 0 6 0a3 3 0 1 0 -6 0M463.5 121.5a3 3 0 1 0 6 0a3 3 0 1 0 -6 0M467.5 123.5a3 3 0 1 0 6 0a3 3 0 1 0 -6 0M471.5 125.5a3 3 0 1 0 6 0a3 3 0 1 0 -6 0M476.5 128.5a3 3 0 1 0 6 0a3 3 0 1 0 -6 0M480.5 131.5a3 3 0 1 0 6 0a3 3 0 1 0 -6 0M485.5 134.5a3 3 0 1 0 6 0a3 3 0 1 0 -6 0M491.5 138.5a3 3 0 1 0 6 0a3 3 0 1 0 -6 0M497.5 141.5a3 3 0 1 0 6 0a3 3 0 1 0 -6 0M503.5 145.5a3 3 0 1 0 6 0a3 3 0 1 0 -6 0M509.5 149.5a3 3 0 1 0 6 0a3 3 0 1 0 -6 0M516.5 153.5a3 3 0 1 0 6 0a3 3 0 1 0 -6 0M523.5 157.5a3 3 0 1 0 6 0a3 3 0 1 0 -6 0M531.5 161.5a3 3 0 1 0 6 0a3 3 0 1 0 -6 0M539.5 165.5a3 3 0 1 0 6 0a3 3 0 1 0 -6 0M547.5 169.5a3 3 0 1 0 6 0a3 3 0 1 0 -6 0M557.5 173.5a3 3 0 1 0 6 0a3 3 0 1 0 -6 0M566.5 177.5a3 3 0 1 0 6 0a3 3 0 1 0 -6 0M576.5 181.5a3 3 0 1 0 6 0a3 3 0 1 0 -6 0M587.5 185.5a3 3 0 1 0 6 0a3 3 0 1 0 -6 0M599.5 189.5a3 3 0 1 0 6 0a3 3 0 1 0 -6 0M611.5 193.5a3 3 0 1 0 6 0a3 3 0 1 0 -6 0M624.5 196.5a3 3 0 1 0 6 0a3 3 0 1 0 -6 0M637.5 199.5a3 3 0 1 0 6 0a3 3 0 1 0 -6 0M652.5 202.5a3 3 0 1 0 6 0a3 3 0 1 0 -6 0" fill="none" stroke="#ff00ff" stroke-width="1"/>
<g font-family="Liberation Sans" font-size="10" fill="#262626"><text x="395.72" y="258.2">0</text><text x="431.41" y="258.2">0.5</text><path d="M478.13 258.2L478.13 252.65L476.18 252.65L476.18 251.85C477.43 251.75 477.98 251.4 478.18 251.04L479.08 251.04L479.08 258.2Z" fill="#262626"/><text x="516.68" y="258.2">.5</text><path d="M513.82 258.2L513.82 252.65L511.87 252.65L511.87 251.85C513.12 251.75 513.67 251.4 513.87 251.04L514.77 251.04L514.77 258.2Z" fill="#262626"/><text x="555.15" y="258.2">2</text><text x="590.84" y="258.2">2.5</text><text x="634.86" y="258.2">3</text><text x="670.55" y="258.2">3.5</text><text x="387.94" y="248.3">0</text><text x="379.6" y="215.01">0.</text><path d="M390.64 215.01L390.64 209.46L388.69 209.46L388.69 208.66C389.94 208.56 390.49 208.21 390.69 207.85L391.59 207.85L391.59 215.01Z" fill="#262626"/><text x="379.6" y="181.73">0.2</text><text x="379.6" y="148.44">0.3</text><text x="379.6" y="115.16">0.4</text><text x="379.6" y="81.87">0.5</text><text x="379.6" y="48.59">0.6</text><text x="379.6" y="15.3">0.7</text></g>
<path d="M654.2 269.8l4.6 4.6M654.2 274.4l4.6 -4.6" stroke="#262626" stroke-width="0.8" fill="none"/>
<g font-family="Liberation Sans" fill="#262626" font-size="10"><text x="666.64" y="274.7">0</text><path d="M663.78 274.7L663.78 269.15L661.83 269.15L661.83 268.35C663.08 268.25 663.63 267.9 663.83 267.54L664.73 267.54L664.73 274.7Z" fill="#262626"/><text x="672.1" y="269.9" font-size="9">4</text></g>
<path d="M48.5 539.5H327.5V307.5H48.5Z" fill="none" stroke="#262626" stroke-width="1"/>
<path d="M48.5 539.5v-3.5M48.5 307.5v3.5M88.36 539.5v-3.5M88.36 307.5v3.5M128.21 539.5v-3.5M128.21 307.5v3.5M168.07 539.5v-3.5M168.07 307.5v3.5M207.93 539.5v-3.5M207.93 307.5v3.5M247.79 539.5v-3.5M247.79 307.5v3.5M287.64 539.5v-3.5M287.64 307.5v3.5M327.5 539.5v-3.5M327.5 307.5v3.5M48.5 539.5h3.5M327.5 539.5h-3.5M48.5 500.83h3.5M327.5 500.83h-3.5M48.5 462.17h3.5M327.5 462.17h-3.5M48.5 423.5h3.5M327.5 423.5h-3.5M48.5 384.83h3.5M327.5 384.83h-3.5M48.5 346.17h3.5M327.5 346.17h-3.5M48.5 307.5h3.5M327.5 307.5h-3.5" fill="none" stroke="#262626" stroke-width="1"/>
<path d="M48.5 539.5 49.33 539.5 49.37 539.5 49.43 539.5 49.48 539.5 49.54 539.5 49.6 539.5 49.67 539.5 49.74 539.5 49.81 539.5 49.89 539.5 49.97 539.5 50.06 539.5 50.16 539.5 50.25 539.5 50.36 539.49 50.47 539.49 50.59 539.49 50.71 539.49 50.84 539.49 50.98 539.49 51.13 539.49 51.29 539.49 51.46 539.49 51.63 539.49 51.82 539.49 52.02 539.49 52.23 539.49 52.45 539.49 52.69 539.48 52.94 539.48 53.2 539.48 53.48 539.48 53.78 539.48 54.09 539.48 54.43 539.47 54.78 539.47 55.16 539.47 55.55 539.47 55.97 539.46 56.42 539.46 56.89 539.46 57.39 539.45 57.93 539.45 58.49 539.45 59.08 539.44 59.72 539.44 60.39 539.43 61.1 539.43 61.85 539.42 62.64 539.41 63.49 539.4 64.38 539.4 65.33 539.39 66.34 539.38 67.4 539.37 68.53 539.36 69.73 539.34 70.99 539.33 72.34 539.32 73.76 539.3 75.27 539.28 76.86 539.27 78.56 539.25 80.35 539.23 82.25 539.2 84.27 539.18 86.4 539.15 88.67 539.12 91.07 539.09 93.61 539.05 96.3 539.02 99.15 538.97 102.18 538.93 105.38 538.88 108.78 538.83 112.38 538.77 116.19 538.71 120.23 538.64 124.51 538.57 129.05 538.49 133.86 538.41 138.96 538.32 144.36 538.22 150.08 538.11 156.14 537.99 162.57 537.86 169.38 537.72 176.6 537.57 184.24 537.41 192.35 537.23 200.93 537.04 210.03 536.83 219.68 536.61 229.9 536.36 240.73 536.1 252.2 535.81 264.36 535.5 277.25 535.16 290.91 534.79 305.38 534.4" fill="none" stroke="#000000" stroke-width="1"/>
<path d="M49.33 351.57 49.37 351.82 49.43 352.28 49.48 352.97 49.54 353.87 49.6 354.98 49.67 356.29 49.74 357.76 49.81 359.34 49.89 360.96 49.97 362.51 50.06 363.9 50.16 365.29 50.25 366.72 50.36 368.19 50.47 369.71 50.59 371.29 50.71 372.94 50.84 374.67 50.98 376.5 51.13 378.47 51.29 380.6 51.46 382.95 51.63 385.57 51.82 388.53 52.02 391.82 52.23 395.37 52.45 399.09 52.69 403 52.94 407.15 53.2 411.57 53.48 416.26 53.78 421.28 54.09 426.81 54.43 432.55 54.78 437.99 55.16 443.34 55.55 448.58 55.97 453.46 56.42 457.95 56.89 462.25 57.39 466.33 57.93 470.2 58.49 473.89 59.08 477.38 59.72 480.61 60.39 483.76 61.1 486.9 61.85 489.93 62.64 492.71 63.49 495.05 64.38 497.13 65.33 499.09 66.34 500.93 67.4 502.67 68.53 504.31 69.73 505.89 70.99 507.44 72.34 508.97 73.76 510.45 75.27 511.89 76.86 513.25 78.56 514.53 80.35 515.74 82.25 516.92 84.27 518.04 86.4 519.11 88.67 520.11 91.07 521.03 93.61 521.91 96.3 522.75 99.15 523.55 102.18 524.31 105.38 525.02 108.78 525.71 112.38 526.37 116.19 526.99 120.23 527.58 124.51 528.12 129.05 528.63 133.86 529.12 138.96 529.56 144.36 529.93 150.08 530.28 156.14 530.58 162.57 530.79 169.38 530.92 176.6 531.02 184.24 531.1 192.35 531.19 200.93 531.31 210.03 531.43 219.68 531.54 229.9 531.62 240.73 531.68 252.2 531.74 264.36 531.83 277.25 531.94 290.91 532.05 305.38 532.16" fill="none" stroke="#ff0000" stroke-width="1"/>
<path d="M46 351.5h7M49.5 348v7M46 351.5h7M49.5 348v7M46 352.5h7M49.5 349v7M46 352.5h7M49.5 349v7M46 353.5h7M49.5 350v7M46 354.5h7M49.5 351v7M46 356.5h7M49.5 353v7M46 357.5h7M49.5 354v7M46 359.5h7M49.5 356v7M46 360.5h7M49.5 357v7M46 362.5h7M49.5 359v7M47 363.5h7M50.5 360v7M47 365.5h7M50.5 362v7M47 366.5h7M50.5 363v7M47 368.5h7M50.5 365v7M47 369.5h7M50.5 366v7M47 371.5h7M50.5 368v7M47 372.5h7M50.5 369v7M47 374.5h7M50.5 371v7M47 376.5h7M50.5 373v7M48 378.5h7M51.5 375v7M48 380.5h7M51.5 377v7M48 382.5h7M51.5 379v7M48 385.5h7M51.5 382v7M48 388.5h7M51.5 385v7M49 391.5h7M52.5 388v7M49 395.5h7M52.5 392v7M49 399.5h7M52.5 396v7M49 403.5h7M52.5 400v7M49 407.5h7M52.5 404v7M50 411.5h7M53.5 408v7M50 416.5h7M53.5 413v7M50 421.5h7M53.5 418v7M51 426.5h7M54.5 423v7M51 432.5h7M54.5 429v7M51 437.5h7M54.5 434v7M52 443.5h7M55.5 440v7M52 448.5h7M55.5 445v7M52 453.5h7M55.5 450v7M53 457.5h7M56.5 454v7M53 462.5h7M56.5 459v7M54 466.5h7M57.5 463v7M54 470.5h7M57.5 467v7M55 473.5h7M58.5 470v7M56 477.5h7M59.5 474v7M56 480.5h7M59.5 477v7M57 483.5h7M60.5 480v7M58 486.5h7M61.5 483v7M58 489.5h7M61.5 486v7M59 492.5h7M62.5 489v7M60 495.5h7M63.5 492v7M61 497.5h7M64.5 494v7M62 499.5h7M65.5 496v7M63 500.5h7M66.5 497v7M64 502.5h7M67.5 499v7M65 504.5h7M68.5 501v7M66 505.5h7M69.5 502v7M67 507.5h7M70.5 504v7M69 508.5h7M72.5 505v7M70 510.5h7M73.5 507v7M72 511.5h7M75.5 508v7M73 513.5h7M76.5 510v7M75 514.5h7M78.5 511v7M77 515.5h7M80.5 512v7M79 516.5h7M82.5 513v7M81 518.5h7M84.5 515v7M83 519.5h7M86.5 516v7M85 520.5h7M88.5 517v7M88 521.5h7M91.5 518v7M90 521.5h7M93.5 518v7M93 522.5h7M96.5 519v7M96 523.5h7M99.5 520v7M99 524.5h7M102.5 521v7M102 525.5h7M105.5 522v7M105 525.5h7M108.5 522v7M109 526.5h7M112.5 523v7M113 526.5h7M116.5 523v7M117 527.5h7M120.5 524v7M121 528.5h7M124.5 525v7M126 528.5h7M129.5 525v7M130 529.5h7M133.5 526v7M135 529.5h7M138.5 526v7M141 529.5h7M144.5 526v7M147 530.5h7M150.5 527v7M153 530.5h7M156.5 527v7M159 530.5h7M162.5 527v7M166 530.5h7M169.5 527v7M173 531.5h7M176.5 528v7M181 531.5h7M184.5 528v7M189 531.5h7M192.5 528v7M197 531.5h7M200.5 528v7M207 531.5h7M210.5 528v7M216 531.5h7M219.5 528v7M226 531.5h7M229.5 528v7M237 531.5h7M240.5 528v7M249 531.5h7M252.5 528v7M261 531.5h7M264.5 528v7M274 531.5h7M277.5 528v7M287 532.5h7M290.5 529v7M302 532.5h7M305.5 529v7" fill="none" stroke="#ff0000" stroke-width="1"/>
<path d="M49.33 345.93 49.37 345.95 49.43 345.97 49.48 346 49.54 346.02 49.6 346.05 49.67 346.09 49.74 346.13 49.81 346.17 49.89 346.22 49.97 346.27 50.06 346.33 50.16 346.4 50.25 346.47 50.36 346.56 50.47 346.65 50.59 346.76 50.71 346.88 50.84 347.01 50.98 347.15 51.13 347.32 51.29 347.5 51.46 347.71 51.63 347.93 51.82 348.19 52.02 348.47 52.23 348.79 52.45 349.15 52.69 349.54 52.94 349.98 53.2 350.47 53.48 351.02 53.78 351.63 54.09 352.31 54.43 353.06 54.78 353.9 55.16 354.83 55.55 355.86 55.97 357.01 56.42 358.27 56.89 359.68 57.39 361.23 57.93 362.94 58.49 364.83 59.08 366.92 59.72 369.21 60.39 371.72 61.1 374.48 61.85 377.49 62.64 380.79 63.49 384.37 64.38 388.25 65.33 392.41 66.34 396.8 67.4 401.35 68.53 405.96 69.73 410.51 70.99 414.8 72.34 418.65 73.76 422.17 75.27 425.66 76.86 429.55 78.56 434.21 80.35 439.28 82.25 444.19 84.27 448.74 86.4 452.95 88.67 456.91 91.07 460.69 93.61 464.28 96.3 467.68 99.15 470.9 102.18 473.94 105.38 476.85 108.78 479.7 112.38 482.52 116.19 485.3 120.23 488.03 124.51 490.68 129.05 493.24 133.86 495.68 138.96 498 144.36 500.18 150.08 502.2 156.14 504.06 162.57 505.76 169.38 507.3 176.6 508.71 184.24 510.03 192.35 511.3 200.93 512.53 210.03 513.71 219.68 514.83 229.9 515.88 240.73 516.86 252.2 517.77 264.36 518.6 277.25 519.36 290.91 520.06 305.38 520.71" fill="none" stroke="#0000ff" stroke-width="1"/>
<path d="M46.75 342.75l5.5 5.5M46.75 348.25l5.5 -5.5M46.75 342.75l5.5 5.5M46.75 348.25l5.5 -5.5M46.75 342.75l5.5 5.5M46.75 348.25l5.5 -5.5M46.75 342.75l5.5 5.5M46.75 348.25l5.5 -5.5M46.75 343.75l5.5 5.5M46.75 349.25l5.5 -5.5M46.75 343.75l5.5 5.5M46.75 349.25l5.5 -5.5M46.75 343.75l5.5 5.5M46.75 349.25l5.5 -5.5M46.75 343.75l5.5 5.5M46.75 349.25l5.5 -5.5M46.75 343.75l5.5 5.5M46.75 349.25l5.5 -5.5M46.75 343.75l5.5 5.5M46.75 349.25l5.5 -5.5M46.75 343.75l5.5 5.5M46.75 349.25l5.5 -5.5M47.75 343.75l5.5 5.5M47.75 349.25l5.5 -5.5M47.75 343.75l5.5 5.5M47.75 349.25l5.5 -5.5M47.75 343.75l5.5 5.5M47.75 349.25l5.5 -5.5M47.75 343.75l5.5 5.5M47.75 349.25l5.5 -5.5M47.75 343.75l5.5 5.5M47.75 349.25l5.5 -5.5M47.75 343.75l5.5 5.5M47.75 349.25l5.5 -5.5M47.75 343.75l5.5 5.5M47.75 349.25l5.5 -5.5M47.75 344.75l5.5 5.5M47.75 350.25l5.5 -5.5M47.75 344.75l5.5 5.5M47.75 350.25l5.5 -5.5M48.75 344.75l5.5 5.5M48.75 350.25l5.5 -5.5M48.75 344.75l5.5 5.5M48.75 350.25l5.5 -5.5M48.75 344.75l5.5 5.5M48.75 350.25l5.5 -5.5M48.75 344.75l5.5 5.5M48.75 350.25l5.5 -5.5M48.75 345.75l5.5 5.5M48.75 351.25l5.5 -5.5M49.75 345.75l5.5 5.5M49.75 351.25l5.5 -5.5M49.75 345.75l5.5 5.5M49.75 351.25l5.5 -5.5M49.75 346.75l5.5 5.5M49.75 352.25l5.5 -5.5M49.75 346.75l5.5 5.5M49.75 352.25l5.5 -5.5M49.75 346.75l5.5 5.5M49.75 352.25l5.5 -5.5M50.75 347.75l5.5 5.5M50.75 353.25l5.5 -5.5M50.75 348.75l5.5 5.5M50.75 354.25l5.5 -5.5M50.75 348.75l5.5 5.5M50.75 354.25l5.5 -5.5M51.75 349.75l5.5 5.5M51.75 355.25l5.5 -5.5M51.75 350.75l5.5 5.5M51.75 356.25l5.5 -5.5M51.75 350.75l5.5 5.5M51.75 356.25l5.5 -5.5M52.75 351.75l5.5 5.5M52.75 357.25l5.5 -5.5M52.75 352.75l5.5 5.5M52.75 358.25l5.5 -5.5M52.75 354.75l5.5 5.5M52.75 360.25l5.5 -5.5M53.75 355.75l5.5 5.5M53.75 361.25l5.5 -5.5M53.75 356.75l5.5 5.5M53.75 362.25l5.5 -5.5M54.75 358.75l5.5 5.5M54.75 364.25l5.5 -5.5M54.75 359.75l5.5 5.5M54.75 365.25l5.5 -5.5M55.75 361.75l5.5 5.5M55.75 367.25l5.5 -5.5M56.75 363.75l5.5 5.5M56.75 369.25l5.5 -5.5M56.75 366.75l5.5 5.5M56.75 372.25l5.5 -5.5M57.75 368.75l5.5 5.5M57.75 374.25l5.5 -5.5M58.75 371.75l5.5 5.5M58.75 377.25l5.5 -5.5M58.75 374.75l5.5 5.5M58.75 380.25l5.5 -5.5M59.75 377.75l5.5 5.5M59.75 383.25l5.5 -5.5M60.75 381.75l5.5 5.5M60.75 387.25l5.5 -5.5M61.75 385.75l5.5 5.5M61.75 391.25l5.5 -5.5M62.75 389.75l5.5 5.5M62.75 395.25l5.5 -5.5M63.75 393.75l5.5 5.5M63.75 399.25l5.5 -5.5M64.75 398.75l5.5 5.5M64.75 404.25l5.5 -5.5M65.75 402.75l5.5 5.5M65.75 408.25l5.5 -5.5M66.75 407.75l5.5 5.5M66.75 413.25l5.5 -5.5M67.75 411.75l5.5 5.5M67.75 417.25l5.5 -5.5M69.75 415.75l5.5 5.5M69.75 421.25l5.5 -5.5M70.75 419.75l5.5 5.5M70.75 425.25l5.5 -5.5M72.75 422.75l5.5 5.5M72.75 428.25l5.5 -5.5M73.75 426.75l5.5 5.5M73.75 432.25l5.5 -5.5M75.75 431.75l5.5 5.5M75.75 437.25l5.5 -5.5M77.75 436.75l5.5 5.5M77.75 442.25l5.5 -5.5M79.75 441.75l5.5 5.5M79.75 447.25l5.5 -5.5M81.75 445.75l5.5 5.5M81.75 451.25l5.5 -5.5M83.75 449.75l5.5 5.5M83.75 455.25l5.5 -5.5M85.75 453.75l5.5 5.5M85.75 459.25l5.5 -5.5M88.75 457.75l5.5 5.5M88.75 463.25l5.5 -5.5M90.75 461.75l5.5 5.5M90.75 467.25l5.5 -5.5M93.75 464.75l5.5 5.5M93.75 470.25l5.5 -5.5M96.75 467.75l5.5 5.5M96.75 473.25l5.5 -5.5M99.75 470.75l5.5 5.5M99.75 476.25l5.5 -5.5M102.75 473.75l5.5 5.5M102.75 479.25l5.5 -5.5M105.75 476.75l5.5 5.5M105.75 482.25l5.5 -5.5M109.75 479.75l5.5 5.5M109.75 485.25l5.5 -5.5M113.75 482.75l5.5 5.5M113.75 488.25l5.5 -5.5M117.75 485.75l5.5 5.5M117.75 491.25l5.5 -5.5M121.75 487.75l5.5 5.5M121.75 493.25l5.5 -5.5M126.75 490.75l5.5 5.5M126.75 496.25l5.5 -5.5M130.75 492.75l5.5 5.5M130.75 498.25l5.5 -5.5M135.75 495.75l5.5 5.5M135.75 501.25l5.5 -5.5M141.75 497.75l5.5 5.5M141.75 503.25l5.5 -5.5M147.75 499.75l5.5 5.5M147.75 505.25l5.5 -5.5M153.75 501.75l5.5 5.5M153.75 507.25l5.5 -5.5M159.75 502.75l5.5 5.5M159.75 508.25l5.5 -5.5M166.75 504.75l5.5 5.5M166.75 510.25l5.5 -5.5M173.75 505.75l5.5 5.5M173.75 511.25l5.5 -5.5M181.75 507.75l5.5 5.5M181.75 513.25l5.5 -5.5M189.75 508.75l5.5 5.5M189.75 514.25l5.5 -5.5M197.75 509.75l5.5 5.5M197.75 515.25l5.5 -5.5M207.75 510.75l5.5 5.5M207.75 516.25l5.5 -5.5M216.75 511.75l5.5 5.5M216.75 517.25l5.5 -5.5M226.75 512.75l5.5 5.5M226.75 518.25l5.5 -5.5M237.75 513.75l5.5 5.5M237.75 519.25l5.5 -5.5M249.75 514.75l5.5 5.5M249.75 520.25l5.5 -5.5M261.75 515.75l5.5 5.5M261.75 521.25l5.5 -5.5M274.75 516.75l5.5 5.5M274.75 522.25l5.5 -5.5M287.75 517.75l5.5 5.5M287.75 523.25l5.5 -5.5M302.75 517.75l5.5 5.5M302.75 523.25l5.5 -5.5" fill="none" stroke="#0000ff" stroke-width="1.15"/>
<path d="M49.33 342.71 49.37 342.72 49.43 342.72 49.48 342.73 49.54 342.74 49.6 342.75 49.67 342.76 49.74 342.77 49.81 342.79 49.89 342.81 49.97 342.82 50.06 342.84 50.16 342.86 50.25 342.89 50.36 342.92 50.47 342.95 50.59 342.98 50.71 343.02 50.84 343.06 50.98 343.11 51.13 343.16 51.29 343.22 51.46 343.29 51.63 343.36 51.82 343.44 52.02 343.54 52.23 343.64 52.45 343.75 52.69 343.88 52.94 344.02 53.2 344.18 53.48 344.36 53.78 344.55 54.09 344.77 54.43 345.01 54.78 345.29 55.16 345.59 55.55 345.92 55.97 346.29 56.42 346.71 56.89 347.16 57.39 347.67 57.93 348.24 58.49 348.86 59.08 349.55 59.72 350.31 60.39 351.15 61.1 352.08 61.85 353.1 62.64 354.22 63.49 355.46 64.38 356.8 65.33 358.28 66.34 359.88 67.4 361.63 68.53 363.53 69.73 365.58 70.99 367.8 72.34 370.2 73.76 372.78 75.27 375.56 76.86 378.52 78.56 381.69 80.35 385.05 82.25 388.6 84.27 392.32 86.4 396.2 88.67 400.21 91.07 404.32 93.61 408.54 96.3 412.91 99.15 417.45 102.18 422.19 105.38 427.16 108.78 432.26 112.38 437.32 116.19 442.06 120.23 446.3 124.51 450.19 129.05 454 133.86 457.77 138.96 461.48 144.36 465.1 150.08 468.62 156.14 472.01 162.57 475.26 169.38 478.34 176.6 481.26 184.24 483.99 192.35 486.55 200.93 488.96 210.03 491.25 219.68 493.4 229.9 495.42 240.73 497.31 252.2 499.07 264.36 500.72 277.25 502.31 290.91 503.88 305.38 505.52" fill="none" stroke="#00ff00" stroke-width="1"/>
<path d="M46 342.5h7M49.5 339v7M46.8 339.8l5.4 5.4M46.8 345.2l5.4 -5.4M46 342.5h7M49.5 339v7M46.8 339.8l5.4 5.4M46.8 345.2l5.4 -5.4M46 342.5h7M49.5 339v7M46.8 339.8l5.4 5.4M46.8 345.2l5.4 -5.4M46 342.5h7M49.5 339v7M46.8 339.8l5.4 5.4M46.8 345.2l5.4 -5.4M46 342.5h7M49.5 339v7M46.8 339.8l5.4 5.4M46.8 345.2l5.4 -5.4M46 342.5h7M49.5 339v7M46.8 339.8l5.4 5.4M46.8 345.2l5.4 -5.4M46 342.5h7M49.5 339v7M46.8 339.8l5.4 5.4M46.8 345.2l5.4 -5.4M46 342.5h7M49.5 339v7M46.8 339.8l5.4 5.4M46.8 345.2l5.4 -5.4M46 342.5h7M49.5 339v7M46.8 339.8l5.4 5.4M46.8 345.2l5.4 -5.4M46 342.5h7M49.5 339v7M46.8 339.8l5.4 5.4M46.8 345.2l5.4 -5.4M46 342.5h7M49.5 339v7M46.8 339.8l5.4 5.4M46.8 345.2l5.4 -5.4M47 342.5h7M50.5 339v7M47.8 339.8l5.4 5.4M47.8 345.2l5.4 -5.4M47 342.5h7M50.5 339v7M47.8 339.8l5.4 5.4M47.8 345.2l5.4 -5.4M47 342.5h7M50.5 339v7M47.8 339.8l5.4 5.4M47.8 345.2l5.4 -5.4M47 342.5h7M50.5 339v7M47.8 339.8l5.4 5.4M47.8 345.2l5.4 -5.4M47 342.5h7M50.5 339v7M47.8 339.8l5.4 5.4M47.8 345.2l5.4 -5.4M47 342.5h7M50.5 339v7M47.8 339.8l5.4 5.4M47.8 345.2l5.4 -5.4M47 343.5h7M50.5 340v7M47.8 340.8l5.4 5.4M47.8 346.2l5.4 -5.4M47 343.5h7M50.5 340v7M47.8 340.8l5.4 5.4M47.8 346.2l5.4 -5.4M47 343.5h7M50.5 340v7M47.8 340.8l5.4 5.4M47.8 346.2l5.4 -5.4M48 343.5h7M51.5 340v7M48.8 340.8l5.4 5.4M48.8 346.2l5.4 -5.4M48 343.5h7M51.5 340v7M48.8 340.8l5.4 5.4M48.8 346.2l5.4 -5.4M48 343.5h7M51.5 340v7M48.8 340.8l5.4 5.4M48.8 346.2l5.4 -5.4M48 343.5h7M51.5 340v7M48.8 340.8l5.4 5.4M48.8 346.2l5.4 -5.4M48 343.5h7M51.5 340v7M48.8 340.8l5.4 5.4M48.8 346.2l5.4 -5.4M49 343.5h7M52.5 340v7M49.8 340.8l5.4 5.4M49.8 346.2l5.4 -5.4M49 343.5h7M52.5 340v7M49.8 340.8l5.4 5.4M49.8 346.2l5.4 -5.4M49 343.5h7M52.5 340v7M49.8 340.8l5.4 5.4M49.8 346.2l5.4 -5.4M49 343.5h7M52.5 340v7M49.8 340.8l5.4 5.4M49.8 346.2l5.4 -5.4M49 344.5h7M52.5 341v7M49.8 341.8l5.4 5.4M49.8 347.2l5.4 -5.4M50 344.5h7M53.5 341v7M50.8 341.8l5.4 5.4M50.8 347.2l5.4 -5.4M50 344.5h7M53.5 341v7M50.8 341.8l5.4 5.4M50.8 347.2l5.4 -5.4M50 344.5h7M53.5 341v7M50.8 341.8l5.4 5.4M50.8 347.2l5.4 -5.4M51 344.5h7M54.5 341v7M51.8 341.8l5.4 5.4M51.8 347.2l5.4 -5.4M51 345.5h7M54.5 342v7M51.8 342.8l5.4 5.4M51.8 348.2l5.4 -5.4M51 345.5h7M54.5 342v7M51.8 342.8l5.4 5.4M51.8 348.2l5.4 -5.4M52 345.5h7M55.5 342v7M52.8 342.8l5.4 5.4M52.8 348.2l5.4 -5.4M52 345.5h7M55.5 342v7M52.8 342.8l5.4 5.4M52.8 348.2l5.4 -5.4M52 346.5h7M55.5 343v7M52.8 343.8l5.4 5.4M52.8 349.2l5.4 -5.4M53 346.5h7M56.5 343v7M53.8 343.8l5.4 5.4M53.8 349.2l5.4 -5.4M53 347.5h7M56.5 344v7M53.8 344.8l5.4 5.4M53.8 350.2l5.4 -5.4M54 347.5h7M57.5 344v7M54.8 344.8l5.4 5.4M54.8 350.2l5.4 -5.4M54 348.5h7M57.5 345v7M54.8 345.8l5.4 5.4M54.8 351.2l5.4 -5.4M55 348.5h7M58.5 345v7M55.8 345.8l5.4 5.4M55.8 351.2l5.4 -5.4M56 349.5h7M59.5 346v7M56.8 346.8l5.4 5.4M56.8 352.2l5.4 -5.4M56 350.5h7M59.5 347v7M56.8 347.8l5.4 5.4M56.8 353.2l5.4 -5.4M57 351.5h7M60.5 348v7M57.8 348.8l5.4 5.4M57.8 354.2l5.4 -5.4M58 352.5h7M61.5 349v7M58.8 349.8l5.4 5.4M58.8 355.2l5.4 -5.4M58 353.5h7M61.5 350v7M58.8 350.8l5.4 5.4M58.8 356.2l5.4 -5.4M59 354.5h7M62.5 351v7M59.8 351.8l5.4 5.4M59.8 357.2l5.4 -5.4M60 355.5h7M63.5 352v7M60.8 352.8l5.4 5.4M60.8 358.2l5.4 -5.4M61 356.5h7M64.5 353v7M61.8 353.8l5.4 5.4M61.8 359.2l5.4 -5.4M62 358.5h7M65.5 355v7M62.8 355.8l5.4 5.4M62.8 361.2l5.4 -5.4M63 359.5h7M66.5 356v7M63.8 356.8l5.4 5.4M63.8 362.2l5.4 -5.4M64 361.5h7M67.5 358v7M64.8 358.8l5.4 5.4M64.8 364.2l5.4 -5.4M65 363.5h7M68.5 360v7M65.8 360.8l5.4 5.4M65.8 366.2l5.4 -5.4M66 365.5h7M69.5 362v7M66.8 362.8l5.4 5.4M66.8 368.2l5.4 -5.4M67 367.5h7M70.5 364v7M67.8 364.8l5.4 5.4M67.8 370.2l5.4 -5.4M69 370.5h7M72.5 367v7M69.8 367.8l5.4 5.4M69.8 373.2l5.4 -5.4M70 372.5h7M73.5 369v7M70.8 369.8l5.4 5.4M70.8 375.2l5.4 -5.4M72 375.5h7M75.5 372v7M72.8 372.8l5.4 5.4M72.8 378.2l5.4 -5.4M73 378.5h7M76.5 375v7M73.8 375.8l5.4 5.4M73.8 381.2l5.4 -5.4M75 381.5h7M78.5 378v7M75.8 378.8l5.4 5.4M75.8 384.2l5.4 -5.4M77 385.5h7M80.5 382v7M77.8 382.8l5.4 5.4M77.8 388.2l5.4 -5.4M79 388.5h7M82.5 385v7M79.8 385.8l5.4 5.4M79.8 391.2l5.4 -5.4M81 392.5h7M84.5 389v7M81.8 389.8l5.4 5.4M81.8 395.2l5.4 -5.4M83 396.5h7M86.5 393v7M83.8 393.8l5.4 5.4M83.8 399.2l5.4 -5.4M85 400.5h7M88.5 397v7M85.8 397.8l5.4 5.4M85.8 403.2l5.4 -5.4M88 404.5h7M91.5 401v7M88.8 401.8l5.4 5.4M88.8 407.2l5.4 -5.4M90 408.5h7M93.5 405v7M90.8 405.8l5.4 5.4M90.8 411.2l5.4 -5.4M93 412.5h7M96.5 409v7M93.8 409.8l5.4 5.4M93.8 415.2l5.4 -5.4M96 417.5h7M99.5 414v7M96.8 414.8l5.4 5.4M96.8 420.2l5.4 -5.4M99 422.5h7M102.5 419v7M99.8 419.8l5.4 5.4M99.8 425.2l5.4 -5.4M102 427.5h7M105.5 424v7M102.8 424.8l5.4 5.4M102.8 430.2l5.4 -5.4M105 432.5h7M108.5 429v7M105.8 429.8l5.4 5.4M105.8 435.2l5.4 -5.4M109 437.5h7M112.5 434v7M109.8 434.8l5.4 5.4M109.8 440.2l5.4 -5.4M113 442.5h7M116.5 439v7M113.8 439.8l5.4 5.4M113.8 445.2l5.4 -5.4M117 446.5h7M120.5 443v7M117.8 443.8l5.4 5.4M117.8 449.2l5.4 -5.4M121 450.5h7M124.5 447v7M121.8 447.8l5.4 5.4M121.8 453.2l5.4 -5.4M126 454.5h7M129.5 451v7M126.8 451.8l5.4 5.4M126.8 457.2l5.4 -5.4M130 457.5h7M133.5 454v7M130.8 454.8l5.4 5.4M130.8 460.2l5.4 -5.4M135 461.5h7M138.5 458v7M135.8 458.8l5.4 5.4M135.8 464.2l5.4 -5.4M141 465.5h7M144.5 462v7M141.8 462.8l5.4 5.4M141.8 468.2l5.4 -5.4M147 468.5h7M150.5 465v7M147.8 465.8l5.4 5.4M147.8 471.2l5.4 -5.4M153 472.5h7M156.5 469v7M153.8 469.8l5.4 5.4M153.8 475.2l5.4 -5.4M159 475.5h7M162.5 472v7M159.8 472.8l5.4 5.4M159.8 478.2l5.4 -5.4M166 478.5h7M169.5 475v7M166.8 475.8l5.4 5.4M166.8 481.2l5.4 -5.4M173 481.5h7M176.5 478v7M173.8 478.8l5.4 5.4M173.8 484.2l5.4 -5.4M181 483.5h7M184.5 480v7M181.8 480.8l5.4 5.4M181.8 486.2l5.4 -5.4M189 486.5h7M192.5 483v7M189.8 483.8l5.4 5.4M189.8 489.2l5.4 -5.4M197 488.5h7M200.5 485v7M197.8 485.8l5.4 5.4M197.8 491.2l5.4 -5.4M207 491.5h7M210.5 488v7M207.8 488.8l5.4 5.4M207.8 494.2l5.4 -5.4M216 493.5h7M219.5 490v7M216.8 490.8l5.4 5.4M216.8 496.2l5.4 -5.4M226 495.5h7M229.5 492v7M226.8 492.8l5.4 5.4M226.8 498.2l5.4 -5.4M237 497.5h7M240.5 494v7M237.8 494.8l5.4 5.4M237.8 500.2l5.4 -5.4M249 499.5h7M252.5 496v7M249.8 496.8l5.4 5.4M249.8 502.2l5.4 -5.4M261 500.5h7M264.5 497v7M261.8 497.8l5.4 5.4M261.8 503.2l5.4 -5.4M274 502.5h7M277.5 499v7M274.8 499.8l5.4 5.4M274.8 505.2l5.4 -5.4M287 503.5h7M290.5 500v7M287.8 500.8l5.4 5.4M287.8 506.2l5.4 -5.4M302 505.5h7M305.5 502v7M302.8 502.8l5.4 5.4M302.8 508.2l5.4 -5.4" fill="none" stroke="#00ff00" stroke-width="1"/>
<path d="M49.33 339.46 49.37 339.46 49.43 339.47 49.48 339.47 49.54 339.47 49.6 339.48 49.67 339.48 49.74 339.49 49.81 339.5 49.89 339.5 49.97 339.51 50.06 339.52 50.16 339.53 50.25 339.54 50.36 339.56 50.47 339.57 50.59 339.59 50.71 339.61 50.84 339.63 50.98 339.65 51.13 339.68 51.29 339.71 51.46 339.74 51.63 339.77 51.82 339.82 52.02 339.86 52.23 339.91 52.45 339.97 52.69 340.03 52.94 340.1 53.2 340.18 53.48 340.27 53.78 340.37 54.09 340.48 54.43 340.61 54.78 340.75 55.16 340.9 55.55 341.08 55.97 341.27 56.42 341.49 56.89 341.73 57.39 341.99 57.93 342.29 58.49 342.62 59.08 342.99 59.72 343.41 60.39 343.86 61.1 344.37 61.85 344.93 62.64 345.56 63.49 346.25 64.38 347.01 65.33 347.86 66.34 348.79 67.4 349.82 68.53 350.95 69.73 352.19 70.99 353.55 72.34 355.05 73.76 356.68 75.27 358.46 76.86 360.39 78.56 362.48 80.35 364.74 82.25 367.17 84.27 369.77 86.4 372.53 88.67 375.45 91.07 378.51 93.61 381.71 96.3 385.05 99.15 388.53 102.18 392.15 105.38 395.9 108.78 399.79 112.38 403.79 116.19 407.91 120.23 412.12 124.51 416.41 129.05 420.75 133.86 425.12 138.96 429.52 144.36 433.92 150.08 438.3 156.14 442.64 162.57 446.9 169.38 451.08 176.6 455.13 184.24 459.04 192.35 462.78 200.93 466.33 210.03 469.67 219.68 472.78 229.9 475.67 240.73 478.34 252.2 480.82 264.36 483.18 277.25 485.48 290.91 487.85 305.38 490.48" fill="none" stroke="#ff00ff" stroke-width="1"/>
<path d="M46.5 339.5a3 3 0 1 0 6 0a3 3 0 1 0 -6 0M46.5 339.5a3 3 0 1 0 6 0a3 3 0 1 0 -6 0M46.5 339.5a3 3 0 1 0 6 0a3 3 0 1 0 -6 0M46.5 339.5a3 3 0 1 0 6 0a3 3 0 1 0 -6 0M46.5 339.5a3 3 0 1 0 6 0a3 3 0 1 0 -6 0M46.5 339.5a3 3 0 1 0 6 0a3 3 0 1 0 -6 0M46.5 339.5a3 3 0 1 0 6 0a3 3 0 1 0 -6 0M46.5 339.5a3 3 0 1 0 6 0a3 3 0 1 0 -6 0M46.5 339.5a3 3 0 1 0 6 0a3 3 0 1 0 -6 0M46.5 339.5a3 3 0 1 0 6 0a3 3 0 1 0 -6 0M46.5 339.5a3 3 0 1 0 6 0a3 3 0 1 0 -6 0M47.5 339.5a3 3 0 1 0 6 0a3 3 0 1 0 -6 0M47.5 339.5a3 3 0 1 0 6 0a3 3 0 1 0 -6 0M47.5 339.5a3 3 0 1 0 6 0a3 3 0 1 0 -6 0M47.5 339.5a3 3 0 1 0 6 0a3 3 0 1 0 -6 0M47.5 339.5a3 3 0 1 0 6 0a3 3 0 1 0 -6 0M47.5 339.5a3 3 0 1 0 6 0a3 3 0 1 0 -6 0M47.5 339.5a3 3 0 1 0 6 0a3 3 0 1 0 -6 0M47.5 339.5a3 3 0 1 0 6 0a3 3 0 1 0 -6 0M47.5 339.5a3 3 0 1 0 6 0a3 3 0 1 0 -6 0M48.5 339.5a3 3 0 1 0 6 0a3 3 0 1 0 -6 0M48.5 339.5a3 3 0 1 0 6 0a3 3 0 1 0 -6 0M48.5 339.5a3 3 0 1 0 6 0a3 3 0 1 0 -6 0M48.5 339.5a3 3 0 1 0 6 0a3 3 0 1 0 -6 0M48.5 339.5a3 3 0 1 0 6 0a3 3 0 1 0 -6 0M49.5 339.5a3 3 0 1 0 6 0a3 3 0 1 0 -6 0M49.5 339.5a3 3 0 1 0 6 0a3 3 0 1 0 -6 0M49.5 339.5a3 3 0 1 0 6 0a3 3 0 1 0 -6 0M49.5 340.5a3 3 0 1 0 6 0a3 3 0 1 0 -6 0M49.5 340.5a3 3 0 1 0 6 0a3 3 0 1 0 -6 0M50.5 340.5a3 3 0 1 0 6 0a3 3 0 1 0 -6 0M50.5 340.5a3 3 0 1 0 6 0a3 3 0 1 0 -6 0M50.5 340.5a3 3 0 1 0 6 0a3 3 0 1 0 -6 0M51.5 340.5a3 3 0 1 0 6 0a3 3 0 1 0 -6 0M51.5 340.5a3 3 0 1 0 6 0a3 3 0 1 0 -6 0M51.5 340.5a3 3 0 1 0 6 0a3 3 0 1 0 -6 0M52.5 340.5a3 3 0 1 0 6 0a3 3 0 1 0 -6 0M52.5 341.5a3 3 0 1 0 6 0a3 3 0 1 0 -6 0M52.5 341.5a3 3 0 1 0 6 0a3 3 0 1 0 -6 0M53.5 341.5a3 3 0 1 0 6 0a3 3 0 1 0 -6 0M53.5 341.5a3 3 0 1 0 6 0a3 3 0 1 0 -6 0M54.5 341.5a3 3 0 1 0 6 0a3 3 0 1 0 -6 0M54.5 342.5a3 3 0 1 0 6 0a3 3 0 1 0 -6 0M55.5 342.5a3 3 0 1 0 6 0a3 3 0 1 0 -6 0M56.5 342.5a3 3 0 1 0 6 0a3 3 0 1 0 -6 0M56.5 343.5a3 3 0 1 0 6 0a3 3 0 1 0 -6 0M57.5 343.5a3 3 0 1 0 6 0a3 3 0 1 0 -6 0M58.5 344.5a3 3 0 1 0 6 0a3 3 0 1 0 -6 0M58.5 344.5a3 3 0 1 0 6 0a3 3 0 1 0 -6 0M59.5 345.5a3 3 0 1 0 6 0a3 3 0 1 0 -6 0M60.5 346.5a3 3 0 1 0 6 0a3 3 0 1 0 -6 0M61.5 347.5a3 3 0 1 0 6 0a3 3 0 1 0 -6 0M62.5 347.5a3 3 0 1 0 6 0a3 3 0 1 0 -6 0M63.5 348.5a3 3 0 1 0 6 0a3 3 0 1 0 -6 0M64.5 349.5a3 3 0 1 0 6 0a3 3 0 1 0 -6 0M65.5 350.5a3 3 0 1 0 6 0a3 3 0 1 0 -6 0M66.5 352.5a3 3 0 1 0 6 0a3 3 0 1 0 -6 0M67.5 353.5a3 3 0 1 0 6 0a3 3 0 1 0 -6 0M69.5 355.5a3 3 0 1 0 6 0a3 3 0 1 0 -6 0M70.5 356.5a3 3 0 1 0 6 0a3 3 0 1 0 -6 0M72.5 358.5a3 3 0 1 0 6 0a3 3 0 1 0 -6 0M73.5 360.5a3 3 0 1 0 6 0a3 3 0 1 0 -6 0M75.5 362.5a3 3 0 1 0 6 0a3 3 0 1 0 -6 0M77.5 364.5a3 3 0 1 0 6 0a3 3 0 1 0 -6 0M79.5 367.5a3 3 0 1 0 6 0a3 3 0 1 0 -6 0M81.5 369.5a3 3 0 1 0 6 0a3 3 0 1 0 -6 0M83.5 372.5a3 3 0 1 0 6 0a3 3 0 1 0 -6 0M85.5 375.5a3 3 0 1 0 6 0a3 3 0 1 0 -6 0M88.5 378.5a3 3 0 1 0 6 0a3 3 0 1 0 -6 0M90.5 381.5a3 3 0 1 0 6 0a3 3 0 1 0 -6 0M93.5 385.5a3 3 0 1 0 6 0a3 3 0 1 0 -6 0M96.5 388.5a3 3 0 1 0 6 0a3 3 0 1 0 -6 0M99.5 392.5a3 3 0 1 0 6 0a3 3 0 1 0 -6 0M102.5 395.5a3 3 0 1 0 6 0a3 3 0 1 0 -6 0M105.5 399.5a3 3 0 1 0 6 0a3 3 0 1 0 -6 0M109.5 403.5a3 3 0 1 0 6 0a3 3 0 1 0 -6 0M113.5 407.5a3 3 0 1 0 6 0a3 3 0 1 0 -6 0M117.5 412.5a3 3 0 1 0 6 0a3 3 0 1 0 -6 0M121.5 416.5a3 3 0 1 0 6 0a3 3 0 1 0 -6 0M126.5 420.5a3 3 0 1 0 6 0a3 3 0 1 0 -6 0M130.5 425.5a3 3 0 1 0 6 0a3 3 0 1 0 -6 0M135.5 429.5a3 3 0 1 0 6 0a3 3 0 1 0 -6 0M141.5 433.5a3 3 0 1 0 6 0a3 3 0 1 0 -6 0M147.5 438.5a3 3 0 1 0 6 0a3 3 0 1 0 -6 0M153.5 442.5a3 3 0 1 0 6 0a3 3 0 1 0 -6 0M159.5 446.5a3 3 0 1 0 6 0a3 3 0 1 0 -6 0M166.5 451.5a3 3 0 1 0 6 0a3 3 0 1 0 -6 0M173.5 455.5a3 3 0 1 0 6 0a3 3 0 1 0 -6 0M181.5 459.5a3 3 0 1 0 6 0a3 3 0 1 0 -6 0M189.5 462.5a3 3 0 1 0 6 0a3 3 0 1 0 -6 0M197.5 466.5a3 3 0 1 0 6 0a3 3 0 1 0 -6 0M207.5 469.5a3 3 0 1 0 6 0a3 3 0 1 0 -6 0M216.5 472.5a3 3 0 1 0 6 0a3 3 0 1 0 -6 0M226.5 475.5a3 3 0 1 0 6 0a3 3 0 1 0 -6 0M237.5 478.5a3 3 0 1 0 6 0a3 3 0 1 0 -6 0M249.5 480.5a3 3 0 1 0 6 0a3 3 0 1 0 -6 0M261.5 483.5a3 3 0 1 0 6 0a3 3 0 1 0 -6 0M274.5 485.5a3 3 0 1 0 6 0a3 3 0 1 0 -6 0M287.5 487.5a3 3 0 1 0 6 0a3 3 0 1 0 -6 0M302.5 490.5a3 3 0 1 0 6 0a3 3 0 1 0 -6 0" fill="none" stroke="#ff00ff" stroke-width="1"/>
<g font-family="Liberation Sans" font-size="10" fill="#262626"><text x="45.72" y="554.2">0</text><text x="81.41" y="554.2">0.5</text><path d="M128.13 554.2L128.13 548.65L126.18 548.65L126.18 547.85C127.43 547.75 127.98 547.4 128.18 547.04L129.08 547.04L129.08 554.2Z" fill="#262626"/><text x="166.68" y="554.2">.5</text><path d="M163.82 554.2L163.82 548.65L161.87 548.65L161.87 547.85C163.12 547.75 163.67 547.4 163.87 547.04L164.77 547.04L164.77 554.2Z" fill="#262626"/><text x="205.15" y="554.2">2</text><text x="240.84" y="554.2">2.5</text><text x="284.86" y="554.2">3</text><text x="320.55" y="554.2">3.5</text><text x="37.94" y="544.3">0</text><text x="29.6" y="505.63">0.</text><path d="M40.64 505.63L40.64 500.08L38.69 500.08L38.69 499.28C39.94 499.18 40.49 498.83 40.69 498.47L41.59 498.47L41.59 505.63Z" fill="#262626"/><text x="29.6" y="466.97">0.2</text><text x="29.6" y="428.3">0.3</text><text x="29.6" y="389.63">0.4</text><text x="29.6" y="350.97">0.5</text><text x="29.6" y="312.3">0.6</text></g>
<path d="M304.2 565.8l4.6 4.6M304.2 570.4l4.6 -4.6" stroke="#262626" stroke-width="0.8" fill="none"/>
<g font-family="Liberation Sans" fill="#262626" font-size="10"><text x="316.64" y="570.7">0</text><path d="M313.78 570.7L313.78 565.15L311.83 565.15L311.83 564.35C313.08 564.25 313.63 563.9 313.83 563.54L314.73 563.54L314.73 570.7Z" fill="#262626"/><text x="322.1" y="565.9" font-size="9">4</text></g>
<path d="M398.5 539.5H677.5V307.5H398.5Z" fill="none" stroke="#262626" stroke-width="1"/>
<path d="M398.5 539.5v-3.5M398.5 307.5v3.5M438.36 539.5v-3.5M438.36 307.5v3.5M478.21 539.5v-3.5M478.21 307.5v3.5M518.07 539.5v-3.5M518.07 307.5v3.5M557.93 539.5v-3.5M557.93 307.5v3.5M597.79 539.5v-3.5M597.79 307.5v3.5M637.64 539.5v-3.5M637.64 307.5v3.5M677.5 539.5v-3.5M677.5 307.5v3.5M398.5 539.5h3.5M677.5 539.5h-3.5M398.5 516.3h3.5M677.5 516.3h-3.5M398.5 493.1h3.5M677.5 493.1h-3.5M398.5 469.9h3.5M677.5 469.9h-3.5M398.5 446.7h3.5M677.5 446.7h-3.5M398.5 423.5h3.5M677.5 423.5h-3.5M398.5 400.3h3.5M677.5 400.3h-3.5M398.5 377.1h3.5M677.5 377.1h-3.5M398.5 353.9h3.5M677.5 353.9h-3.5M398.5 330.7h3.5M677.5 330.7h-3.5M398.5 307.5h3.5M677.5 307.5h-3.5" fill="none" stroke="#262626" stroke-width="1"/>
<path d="M398.5 539.5 399.33 539.5 399.37 539.49 399.43 539.49 399.48 539.49 399.54 539.49 399.6 539.49 399.67 539.49 399.74 539.49 399.81 539.49 399.89 539.49 399.97 539.49 400.06 539.49 400.16 539.49 400.25 539.49 400.36 539.49 400.47 539.49 400.59 539.49 400.71 539.48 400.84 539.48 400.98 539.48 401.13 539.48 401.29 539.48 401.46 539.48 401.63 539.48 401.82 539.48 402.02 539.47 402.23 539.47 402.45 539.47 402.69 539.47 402.94 539.47 403.2 539.46 403.48 539.46 403.78 539.46 404.09 539.46 404.43 539.45 404.78 539.45 405.16 539.45 405.55 539.44 405.97 539.44 406.42 539.43 406.89 539.43 407.39 539.42 407.93 539.42 408.49 539.41 409.08 539.41 409.72 539.4 410.39 539.4 411.1 539.39 411.85 539.38 412.64 539.37 413.49 539.36 414.38 539.35 415.33 539.34 416.34 539.33 417.4 539.32 418.53 539.31 419.73 539.3 420.99 539.28 422.34 539.27 423.76 539.25 425.27 539.23 426.86 539.21 428.56 539.2 430.35 539.17 432.25 539.15 434.27 539.13 436.4 539.1 438.67 539.07 441.07 539.04 443.61 539.01 446.3 538.98 449.15 538.94 452.18 538.91 455.38 538.86 458.78 538.82 462.38 538.77 466.19 538.72 470.23 538.67 474.51 538.61 479.05 538.55 483.86 538.49 488.96 538.42 494.36 538.34 500.08 538.26 506.14 538.18 512.57 538.09 519.38 537.99 526.6 537.88 534.24 537.77 542.35 537.65 550.93 537.53 560.03 537.39 569.68 537.25 579.9 537.09 590.73 536.92 602.2 536.75 614.36 536.56 627.25 536.35 640.91 536.14 655.38 535.9" fill="none" stroke="#000000" stroke-width="1"/>
<path d="M428.56 387.62 430.35 411.32 432.25 428.13 434.27 441.47 436.4 451.22 438.67 460.52 441.07 467.11 443.61 473.47 446.3 478.71 449.15 483.12 452.18 488.16 455.38 492.13 458.78 495.44 462.38 498.56 466.19 501.53 470.23 503.86 474.51 506.19 479.05 508.7 483.86 510.76 488.96 512.71 494.36 514.71 500.08 516.62 506.14 518.32 512.57 519.68 519.38 521.12 526.6 522.3 534.24 523.58 542.35 524.62 550.93 525.59 560.03 526.48 569.68 527.31 579.9 528.12 590.73 528.94 602.2 529.78 614.36 530.69 627.25 531.7 640.91 532.87 655.38 534" fill="none" stroke="#ff0000" stroke-width="1"/>
<path d="M425 387.5h7M428.5 384v7M427 411.5h7M430.5 408v7M429 428.5h7M432.5 425v7M431 441.5h7M434.5 438v7M433 451.5h7M436.5 448v7M435 460.5h7M438.5 457v7M438 467.5h7M441.5 464v7M440 473.5h7M443.5 470v7M443 478.5h7M446.5 475v7M446 483.5h7M449.5 480v7M449 488.5h7M452.5 485v7M452 492.5h7M455.5 489v7M455 495.5h7M458.5 492v7M459 498.5h7M462.5 495v7M463 501.5h7M466.5 498v7M467 503.5h7M470.5 500v7M471 506.5h7M474.5 503v7M476 508.5h7M479.5 505v7M480 510.5h7M483.5 507v7M485 512.5h7M488.5 509v7M491 514.5h7M494.5 511v7M497 516.5h7M500.5 513v7M503 518.5h7M506.5 515v7M509 519.5h7M512.5 516v7M516 521.5h7M519.5 518v7M523 522.5h7M526.5 519v7M531 523.5h7M534.5 520v7M539 524.5h7M542.5 521v7M547 525.5h7M550.5 522v7M557 526.5h7M560.5 523v7M566 527.5h7M569.5 524v7M576 528.5h7M579.5 525v7M587 528.5h7M590.5 525v7M599 529.5h7M602.5 526v7M611 530.5h7M614.5 527v7M624 531.5h7M627.5 528v7M637 532.5h7M640.5 529v7M652 534.5h7M655.5 531v7" fill="none" stroke="#ff0000" stroke-width="1"/>
<path d="M462.38 334.1 466.19 346.96 470.23 357.88 474.51 370.08 479.05 380.59 483.86 389.39 488.96 397.56 494.36 407.13 500.08 415.68 506.14 422.98 512.57 430.34 519.38 436.78 526.6 443.38 534.24 449.14 542.35 454.41 550.93 459.98 560.03 464.69 569.68 469.34 579.9 473.53 590.73 478.38 602.2 482.07 614.36 485.92 627.25 489.55 640.91 493.28 655.38 496.47" fill="none" stroke="#0000ff" stroke-width="1"/>
<path d="M459.75 331.75l5.5 5.5M459.75 337.25l5.5 -5.5M463.75 343.75l5.5 5.5M463.75 349.25l5.5 -5.5M467.75 354.75l5.5 5.5M467.75 360.25l5.5 -5.5M471.75 367.75l5.5 5.5M471.75 373.25l5.5 -5.5M476.75 377.75l5.5 5.5M476.75 383.25l5.5 -5.5M480.75 386.75l5.5 5.5M480.75 392.25l5.5 -5.5M485.75 394.75l5.5 5.5M485.75 400.25l5.5 -5.5M491.75 404.75l5.5 5.5M491.75 410.25l5.5 -5.5M497.75 412.75l5.5 5.5M497.75 418.25l5.5 -5.5M503.75 419.75l5.5 5.5M503.75 425.25l5.5 -5.5M509.75 427.75l5.5 5.5M509.75 433.25l5.5 -5.5M516.75 433.75l5.5 5.5M516.75 439.25l5.5 -5.5M523.75 440.75l5.5 5.5M523.75 446.25l5.5 -5.5M531.75 446.75l5.5 5.5M531.75 452.25l5.5 -5.5M539.75 451.75l5.5 5.5M539.75 457.25l5.5 -5.5M547.75 456.75l5.5 5.5M547.75 462.25l5.5 -5.5M557.75 461.75l5.5 5.5M557.75 467.25l5.5 -5.5M566.75 466.75l5.5 5.5M566.75 472.25l5.5 -5.5M576.75 470.75l5.5 5.5M576.75 476.25l5.5 -5.5M587.75 475.75l5.5 5.5M587.75 481.25l5.5 -5.5M599.75 479.75l5.5 5.5M599.75 485.25l5.5 -5.5M611.75 482.75l5.5 5.5M611.75 488.25l5.5 -5.5M624.75 486.75l5.5 5.5M624.75 492.25l5.5 -5.5M637.75 490.75l5.5 5.5M637.75 496.25l5.5 -5.5M652.75 493.75l5.5 5.5M652.75 499.25l5.5 -5.5" fill="none" stroke="#0000ff" stroke-width="1.15"/>
<path d="M474.51 311.18 479.05 317.64 483.86 323.78 488.96 330.2 494.36 336.37 500.08 343.12 506.14 349.84 512.57 356.8 519.38 364.06 526.6 370.25 534.24 377.34 542.35 384.3 550.93 390.97 560.03 397.72 569.68 404.57 579.9 411.44 590.73 417.54 602.2 424.24 614.36 430.46 627.25 436.4 640.91 441.64 655.38 447.51" fill="none" stroke="#00ff00" stroke-width="1"/>
<path d="M471 311.5h7M474.5 308v7M471.8 308.8l5.4 5.4M471.8 314.2l5.4 -5.4M476 317.5h7M479.5 314v7M476.8 314.8l5.4 5.4M476.8 320.2l5.4 -5.4M480 323.5h7M483.5 320v7M480.8 320.8l5.4 5.4M480.8 326.2l5.4 -5.4M485 330.5h7M488.5 327v7M485.8 327.8l5.4 5.4M485.8 333.2l5.4 -5.4M491 336.5h7M494.5 333v7M491.8 333.8l5.4 5.4M491.8 339.2l5.4 -5.4M497 343.5h7M500.5 340v7M497.8 340.8l5.4 5.4M497.8 346.2l5.4 -5.4M503 349.5h7M506.5 346v7M503.8 346.8l5.4 5.4M503.8 352.2l5.4 -5.4M509 356.5h7M512.5 353v7M509.8 353.8l5.4 5.4M509.8 359.2l5.4 -5.4M516 364.5h7M519.5 361v7M516.8 361.8l5.4 5.4M516.8 367.2l5.4 -5.4M523 370.5h7M526.5 367v7M523.8 367.8l5.4 5.4M523.8 373.2l5.4 -5.4M531 377.5h7M534.5 374v7M531.8 374.8l5.4 5.4M531.8 380.2l5.4 -5.4M539 384.5h7M542.5 381v7M539.8 381.8l5.4 5.4M539.8 387.2l5.4 -5.4M547 390.5h7M550.5 387v7M547.8 387.8l5.4 5.4M547.8 393.2l5.4 -5.4M557 397.5h7M560.5 394v7M557.8 394.8l5.4 5.4M557.8 400.2l5.4 -5.4M566 404.5h7M569.5 401v7M566.8 401.8l5.4 5.4M566.8 407.2l5.4 -5.4M576 411.5h7M579.5 408v7M576.8 408.8l5.4 5.4M576.8 414.2l5.4 -5.4M587 417.5h7M590.5 414v7M587.8 414.8l5.4 5.4M587.8 420.2l5.4 -5.4M599 424.5h7M602.5 421v7M599.8 421.8l5.4 5.4M599.8 427.2l5.4 -5.4M611 430.5h7M614.5 427v7M611.8 427.8l5.4 5.4M611.8 433.2l5.4 -5.4M624 436.5h7M627.5 433v7M624.8 433.8l5.4 5.4M624.8 439.2l5.4 -5.4M637 441.5h7M640.5 438v7M637.8 438.8l5.4 5.4M637.8 444.2l5.4 -5.4M652 447.5h7M655.5 444v7M652.8 444.8l5.4 5.4M652.8 450.2l5.4 -5.4" fill="none" stroke="#00ff00" stroke-width="1"/>
<path d="M479.05 307.25 483.86 310.15 488.96 311.59 494.36 313.88 500.08 316.13 506.14 318.71 512.57 321.31 519.38 324.83 526.6 328.49 534.24 332.1 542.35 335.67 550.93 340.18 560.03 344.48 569.68 349.28 579.9 354.34 590.73 359.8 602.2 364.84 614.36 370.04 627.25 375.63 640.91 381.29 655.38 387.56" fill="none" stroke="#ff00ff" stroke-width="1"/>
<path d="M476.5 307.5a3 3 0 1 0 6 0a3 3 0 1 0 -6 0M480.5 310.5a3 3 0 1 0 6 0a3 3 0 1 0 -6 0M485.5 311.5a3 3 0 1 0 6 0a3 3 0 1 0 -6 0M491.5 313.5a3 3 0 1 0 6 0a3 3 0 1 0 -6 0M497.5 316.5a3 3 0 1 0 6 0a3 3 0 1 0 -6 0M503.5 318.5a3 3 0 1 0 6 0a3 3 0 1 0 -6 0M509.5 321.5a3 3 0 1 0 6 0a3 3 0 1 0 -6 0M516.5 324.5a3 3 0 1 0 6 0a3 3 0 1 0 -6 0M523.5 328.5a3 3 0 1 0 6 0a3 3 0 1 0 -6 0M531.5 332.5a3 3 0 1 0 6 0a3 3 0 1 0 -6 0M539.5 335.5a3 3 0 1 0 6 0a3 3 0 1 0 -6 0M547.5 340.5a3 3 0 1 0 6 0a3 3 0 1 0 -6 0M557.5 344.5a3 3 0 1 0 6 0a3 3 0 1 0 -6 0M566.5 349.5a3 3 0 1 0 6 0a3 3 0 1 0 -6 0M576.5 354.5a3 3 0 1 0 6 0a3 3 0 1 0 -6 0M587.5 359.5a3 3 0 1 0 6 0a3 3 0 1 0 -6 0M599.5 364.5a3 3 0 1 0 6 0a3 3 0 1 0 -6 0M611.5 370.5a3 3 0 1 0 6 0a3 3 0 1 0 -6 0M624.5 375.5a3 3 0 1 0 6 0a3 3 0 1 0 -6 0M637.5 381.5a3 3 0 1 0 6 0a3 3 0 1 0 -6 0M652.5 387.5a3 3 0 1 0 6 0a3 3 0 1 0 -6 0" fill="none" stroke="#ff00ff" stroke-width="1"/>
<g font-family="Liberation Sans" font-size="10" fill="#262626"><text x="395.72" y="554.2">0</text><text x="431.41" y="554.2">0.5</text><path d="M478.13 554.2L478.13 548.65L476.18 548.65L476.18 547.85C477.43 547.75 477.98 547.4 478.18 547.04L479.08 547.04L479.08 554.2Z" fill="#262626"/><text x="516.68" y="554.2">.5</text><path d="M513.82 554.2L513.82 548.65L511.87 548.65L511.87 547.85C513.12 547.75 513.67 547.4 513.87 547.04L514.77 547.04L514.77 554.2Z" fill="#262626"/><text x="555.15" y="554.2">2</text><text x="590.84" y="554.2">2.5</text><text x="634.86" y="554.2">3</text><text x="670.55" y="554.2">3.5</text><text x="387.94" y="544.3">0</text><text x="379.6" y="521.1">0.</text><path d="M390.64 521.1L390.64 515.55L388.69 515.55L388.69 514.75C389.94 514.65 390.49 514.3 390.69 513.94L391.59 513.94L391.59 521.1Z" fill="#262626"/><text x="379.6" y="497.9">0.2</text><text x="379.6" y="474.7">0.3</text><text x="379.6" y="451.5">0.4</text><text x="379.6" y="428.3">0.5</text><text x="379.6" y="405.1">0.6</text><text x="379.6" y="381.9">0.7</text><text x="379.6" y="358.7">0.8</text><text x="379.6" y="335.5">0.9</text><path d="M390.64 312.3L390.64 306.75L388.69 306.75L388.69 305.95C389.94 305.85 390.49 305.5 390.69 305.14L391.59 305.14L391.59 312.3Z" fill="#262626"/></g>
<path d="M654.2 565.8l4.6 4.6M654.2 570.4l4.6 -4.6" stroke="#262626" stroke-width="0.8" fill="none"/>
<g font-family="Liberation Sans" fill="#262626" font-size="10"><text x="666.64" y="570.7">0</text><path d="M663.78 570.7L663.78 565.15L661.83 565.15L661.83 564.35C663.08 564.25 663.63 563.9 663.83 563.54L664.73 563.54L664.73 570.7Z" fill="#262626"/><text x="672.1" y="565.9" font-size="9">4</text></g>
<text x="188" y="274.8" font-family="Liberation Serif" font-size="12" text-anchor="middle" fill="#000" stroke="#000" stroke-width="0.2">Frequency [Hz]</text>
<text transform="translate(15.8 123.5) rotate(-90)" font-family="Liberation Serif" font-size="12" text-anchor="middle" fill="#000" stroke="#000" stroke-width="0.2">Reflection coefficient</text>
<text x="0.5" y="15.3" font-family="Liberation Serif" font-weight="bold" font-size="18" fill="#000">(a)</text>
<text x="538" y="274.8" font-family="Liberation Serif" font-size="12" text-anchor="middle" fill="#000" stroke="#000" stroke-width="0.2">Frequency [Hz]</text>
<text transform="translate(367.8 127.5) rotate(-90)" font-family="Liberation Serif" font-size="12" text-anchor="middle" fill="#000" stroke="#000" stroke-width="0.2">Reflection coefficient</text>
<text x="351" y="15.3" font-family="Liberation Serif" font-weight="bold" font-size="18" fill="#000">(b)</text>
<text x="188" y="570.8" font-family="Liberation Serif" font-size="12" text-anchor="middle" fill="#000" stroke="#000" stroke-width="0.2">Frequency [Hz]</text>
<text transform="translate(15.8 423) rotate(-90)" font-family="Liberation Serif" font-size="12" text-anchor="middle" fill="#000" stroke="#000" stroke-width="0.2">Reflection coefficient</text>
<text x="0.5" y="306.4" font-family="Liberation Serif" font-weight="bold" font-size="18" fill="#000">(c)</text>
<text x="538" y="570.8" font-family="Liberation Serif" font-size="12" text-anchor="middle" fill="#000" stroke="#000" stroke-width="0.2">Frequency [Hz]</text>
<text transform="translate(367.8 422) rotate(-90)" font-family="Liberation Serif" font-size="12" text-anchor="middle" fill="#000" stroke="#000" stroke-width="0.2">Reflection coefficient</text>
<text x="351" y="306.4" font-family="Liberation Serif" font-weight="bold" font-size="18" fill="#000">(d)</text>
</svg></body></html>
